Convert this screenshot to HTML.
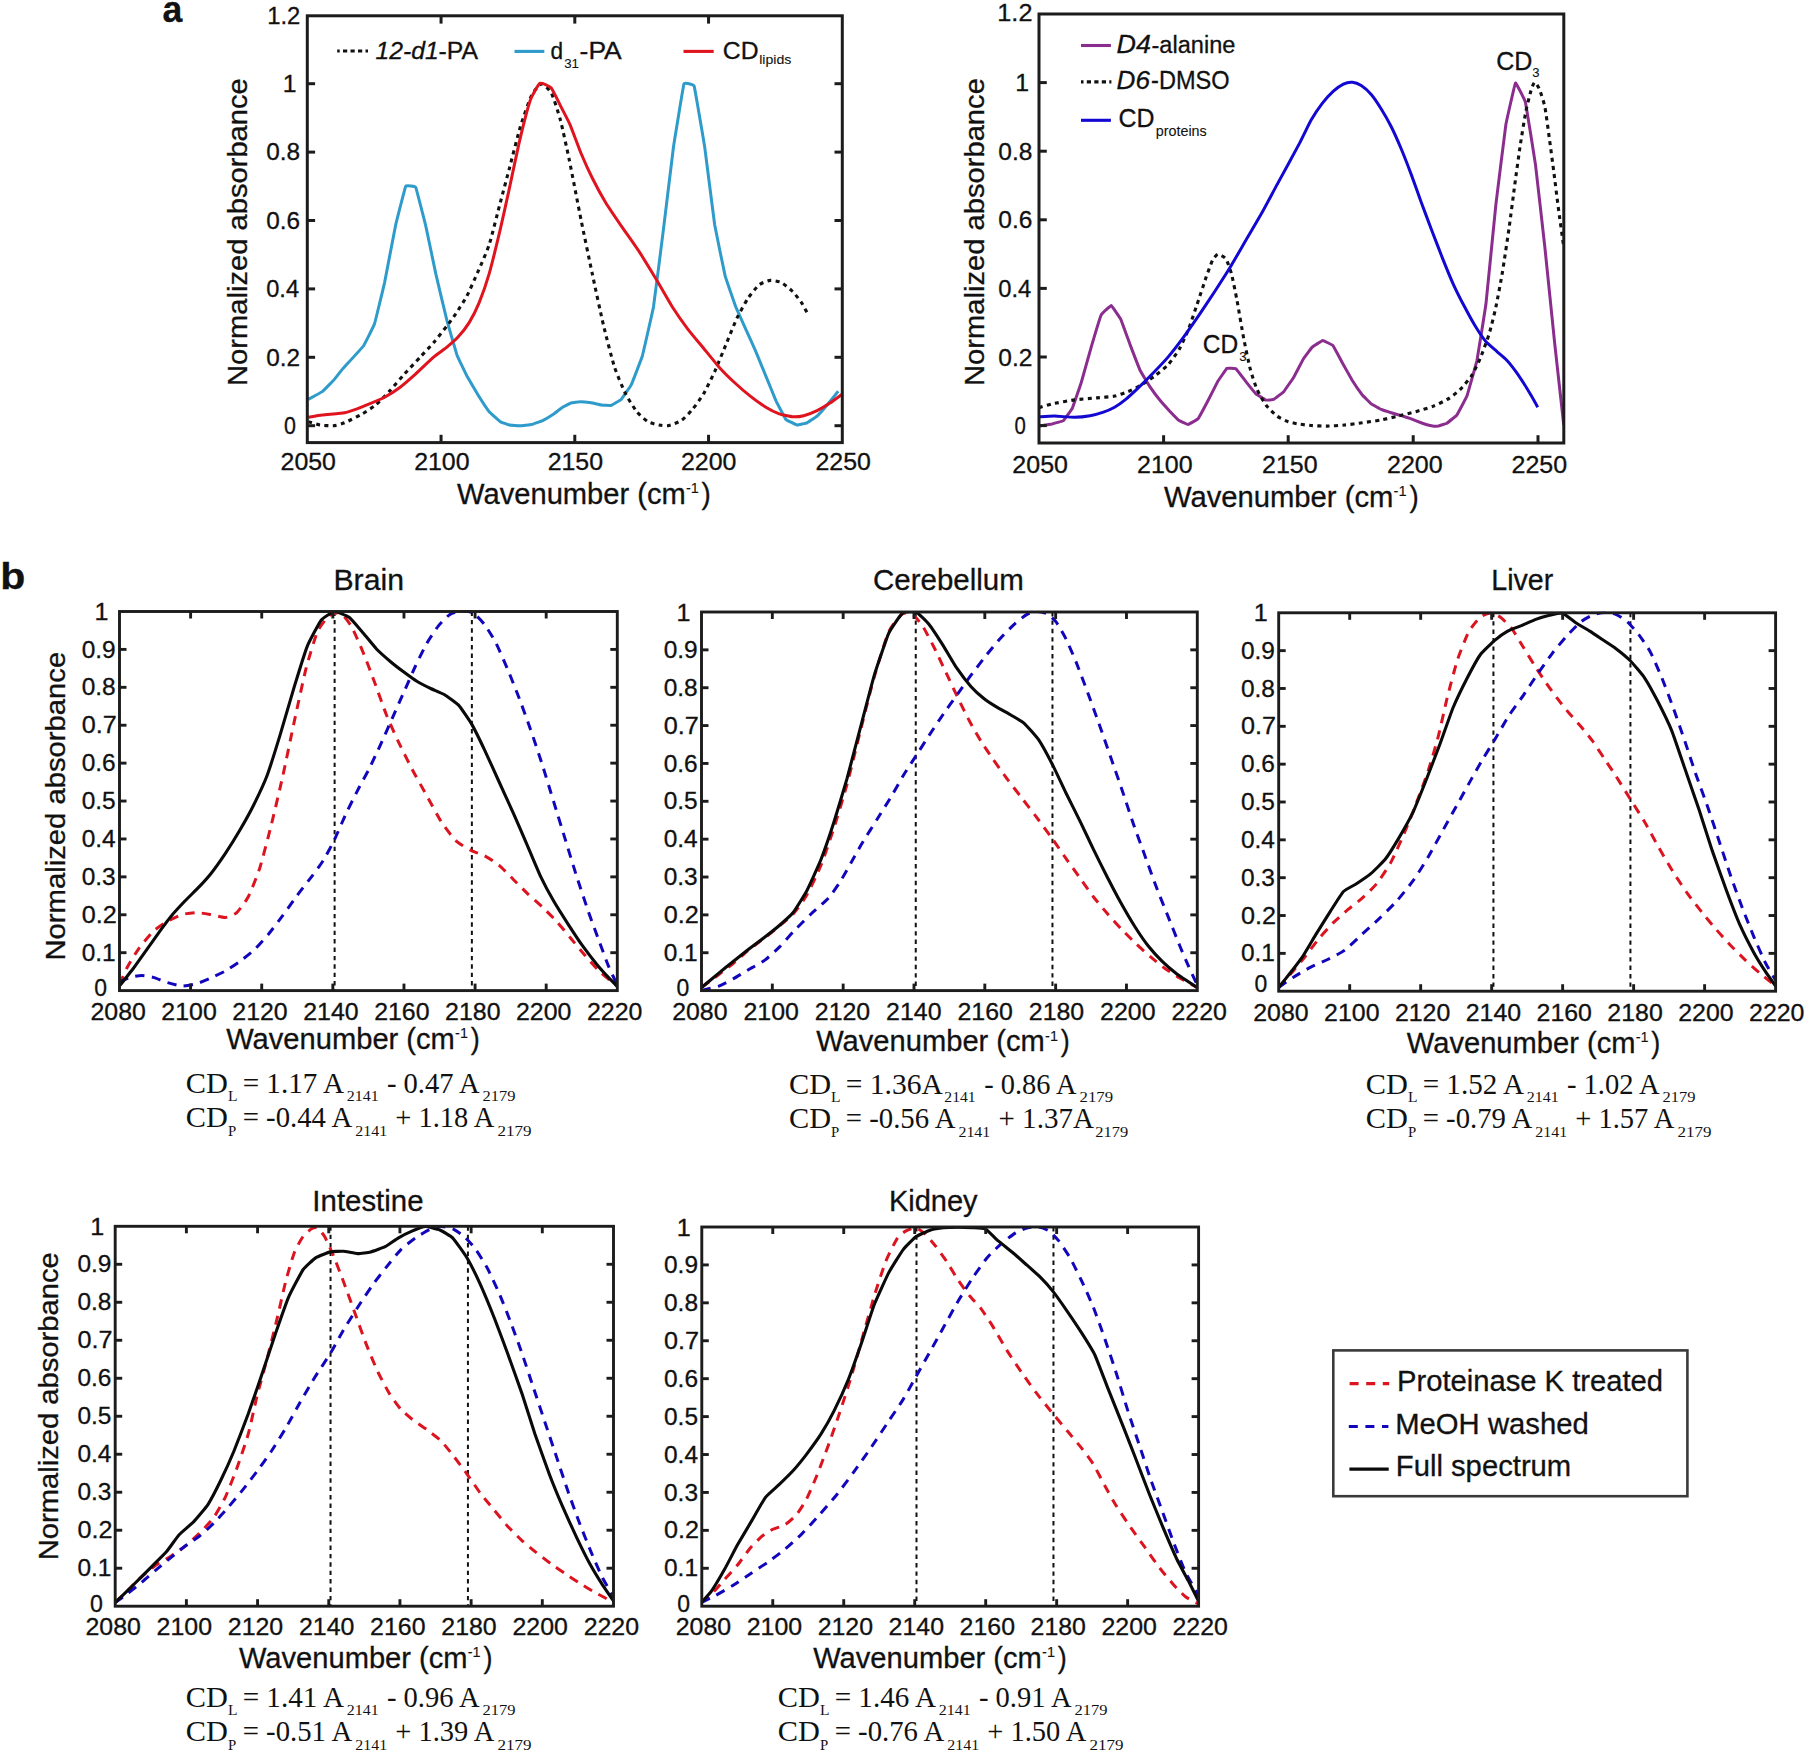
<!DOCTYPE html>
<html lang="en">
<head>
<meta charset="utf-8">
<title>Normalized absorbance spectra</title>
<style>
html,body{margin:0;padding:0;background:#fff;}
body{width:1805px;height:1752px;overflow:hidden;}
svg{display:block;}
text{fill:#111;white-space:pre;}
.sans{stroke:#111;stroke-width:0.3px;}
.sm{stroke-width:0.1px;}
.sans{font-family:"Liberation Sans",Arial,sans-serif;}
.serif{font-family:"Liberation Serif","Times New Roman",serif;}
</style>
</head>
<body>
<svg width="1805" height="1752" viewBox="0 0 1805 1752">
<rect width="1805" height="1752" fill="#fff"/>
<clipPath id="cAL"><rect x="307.3" y="15.8" width="535" height="426.8"/></clipPath>
<path d="M308.24 399.43C308.61 399.22 321.59 392.14 322.26 391.64C322.93 391.13 332.85 381.1 333.39 380.51C333.92 379.92 341.49 370.3 342.29 369.38C343.09 368.46 362.57 347.23 363.43 346.01C364.29 344.79 374 325.44 374.56 323.75C375.13 322.06 384.01 285.22 384.58 282.58C385.14 279.93 395.14 227.28 395.71 224.71C396.27 222.14 405.19 187.2 405.72 186.2C406.26 185.2 415.21 186.26 415.74 187.31C416.27 188.37 425.22 223.52 425.76 225.82C426.29 228.12 435.21 271.15 435.77 273.67C436.33 276.2 446.34 318.25 446.9 320.41C447.46 322.58 456.38 353.43 456.92 354.91C457.45 356.4 466.37 374.99 466.93 376.06C467.5 377.13 477.47 394.03 478.06 394.98C478.65 395.93 488.6 410.96 489.19 411.67C489.78 412.38 499.78 421.33 500.32 421.69C500.85 422.04 508.69 424.92 509.22 425.02C509.76 425.13 519.76 425.7 520.35 425.69C520.94 425.68 530.89 424.72 531.48 424.58C532.07 424.44 542.01 420.86 542.61 420.57C543.2 420.29 553.2 414.25 553.74 413.9C554.27 413.54 562.16 407.51 562.64 407.22C563.11 406.92 571.08 402.91 571.54 402.77C572.01 402.62 579.49 401.65 580.02 401.65C580.54 401.65 590.58 402.68 591.14 402.77C591.71 402.86 600.63 404.92 601.16 404.99C601.69 405.06 610.64 405.59 611.18 405.44C611.71 405.29 620.66 399.97 621.19 399.43C621.73 398.88 630.64 386.12 631.21 384.96C631.77 383.8 641.74 358.1 642.34 356.03C642.93 353.95 652.9 310.44 653.47 307.06C654.03 303.68 662.95 233.43 663.48 229.16C664.02 224.88 672.95 150.68 673.5 146.8C674.04 142.93 683.41 85.43 683.96 83.82C684.51 82.2 693.65 84.58 694.2 86.26C694.75 87.94 704.11 143.11 704.66 146.8C705.2 150.5 714.13 221.26 714.67 224.71C715.22 228.15 724.57 273.7 725.14 275.9C725.7 278.09 735.27 305.63 735.82 307.06C736.37 308.48 745.3 328.13 745.83 329.32C746.37 330.5 755.32 350.33 755.85 351.57C756.38 352.82 765.33 374.75 765.87 376.06C766.4 377.36 775.35 399.38 775.88 400.54C776.42 401.7 785.33 418.81 785.9 419.46C786.46 420.11 796.46 424.93 797.03 425.02C797.59 425.11 806.51 423.04 807.04 422.8C807.58 422.56 816.52 416.6 817.06 416.12C817.59 415.65 826.51 405.66 827.07 404.99C827.64 404.33 837.91 391.56 838.2 391.19" fill="none" stroke="#2e9bcb" stroke-width="3" stroke-linejoin="miter" stroke-miterlimit="2" stroke-linecap="butt" clip-path="url(#cAL)"/>
<path d="M308.24 421.69C309.41 422.02 317.52 424.62 320.03 425.02C322.55 425.42 330.94 425.91 333.39 425.69C335.83 425.47 341.62 423.98 344.52 422.8C347.41 421.62 359.21 415.68 362.32 413.9C365.44 412.11 373 407.22 375.68 404.99C378.35 402.77 386.14 394.75 389.03 391.64C391.92 388.52 401.49 377.28 404.61 373.83C407.73 370.38 417.3 360.25 420.19 357.14C423.08 354.02 430.87 345.79 433.55 342.67C436.22 339.55 444.67 328.87 446.9 325.98C449.13 323.08 453.8 316.74 455.8 313.74C457.81 310.73 464.71 300.16 466.93 295.93C469.16 291.7 475.83 276.57 478.06 271.45C480.29 266.33 486.96 251.64 489.19 244.74C491.41 237.84 498.31 210.02 500.32 202.45C502.32 194.88 507.22 176.63 509.22 169.06C511.22 161.49 518.12 134.12 520.35 126.77C522.58 119.43 529.36 99.89 531.48 95.61C533.59 91.34 539.49 84.26 541.49 84.04C543.5 83.82 549.62 89.78 551.51 93.39C553.4 96.99 558.63 113.42 560.41 120.1C562.19 126.77 567.24 150.14 569.32 160.16C571.39 170.17 578.83 208.9 581.13 220.25C583.42 231.61 590.03 263.21 592.26 273.67C594.48 284.13 601.16 315.52 603.39 324.86C605.61 334.21 612.29 360.25 614.52 367.15C616.74 374.05 623.42 389.41 625.64 393.86C627.87 398.31 634.55 408.89 636.77 411.67C639 414.45 645.68 420.35 647.9 421.69C650.13 423.02 657.03 424.62 659.03 425.02C661.03 425.42 665.71 426.14 667.93 425.69C670.16 425.25 678.84 422.2 681.29 420.57C683.74 418.95 690.19 412.11 692.42 409.44C694.64 406.77 701.32 397.65 703.55 393.86C705.77 390.08 712.45 376.5 714.67 371.61C716.9 366.71 723.58 350.24 725.8 344.9C728.03 339.55 734.71 322.86 736.93 318.19C739.16 313.51 745.83 301.49 748.06 298.16C750.29 294.82 756.96 286.58 759.19 284.8C761.41 283.02 768.09 280.57 770.32 280.35C772.54 280.13 779.22 281.46 781.45 282.58C783.67 283.69 790.57 289.48 792.58 291.48C794.58 293.48 800.03 300.49 801.48 302.61C802.93 304.72 806.49 311.62 807.04 312.62" fill="none" stroke="#111" stroke-width="3.1" stroke-linejoin="miter" stroke-miterlimit="2" stroke-linecap="butt" stroke-dasharray="4 4.3" clip-path="url(#cAL)"/>
<path d="M308.24 417.23C309.26 417.07 319.6 415.33 322.26 415.01C324.92 414.68 342.07 413.19 344.52 412.78C346.96 412.37 354.01 410.01 355.64 409.44C357.28 408.87 364.65 405.89 366.77 404.99C368.89 404.09 382.13 398.51 384.58 397.2C387.03 395.9 397.87 388.9 400.16 387.19C402.44 385.47 413.29 376.03 415.74 373.83C418.19 371.63 431.26 359.1 433.55 357.14C435.83 355.18 445.1 348.59 446.9 347.12C448.7 345.65 456.4 338.9 458.03 337.11C459.66 335.31 467.61 325.17 469.16 322.64C470.71 320.11 477.7 306.2 479.17 302.61C480.64 299.02 487.64 279.06 489.19 273.67C490.74 268.29 498.85 235.36 500.32 229.16C501.79 222.95 507.83 195.46 509.22 189.09C510.61 182.73 517.69 148.88 519.24 142.35C520.79 135.82 528.85 104.39 530.37 100.06C531.88 95.74 538.42 84.27 539.94 83.37C541.45 82.47 549.48 86.03 551.07 87.82C552.65 89.62 560.14 105.16 561.53 107.85C562.91 110.55 568.56 121.2 570 124.55C571.44 127.89 579.5 149.56 581.13 153.48C582.76 157.4 590.46 174.37 592.26 177.97C594.05 181.56 603.49 198.94 605.61 202.45C607.73 205.96 618.74 222.23 621.19 225.82C623.64 229.41 636.39 247.42 639 251.41C641.61 255.41 654.36 276.27 656.8 280.35C659.25 284.43 670.1 303.47 672.38 307.06C674.67 310.65 685.68 326.3 687.97 329.32C690.25 332.34 701.26 345.46 703.55 348.24C705.83 351.01 716.84 364.62 719.13 367.15C721.41 369.68 732.42 380.61 734.71 382.73C736.99 384.86 748 394.29 750.29 396.09C752.57 397.88 763.74 405.91 765.87 407.22C767.99 408.52 777.26 413.19 779.22 413.9C781.18 414.6 790.78 416.66 792.58 416.79C794.37 416.92 801.91 416.13 803.7 415.68C805.5 415.22 815.1 411.5 817.06 410.56C819.02 409.61 828.54 403.99 830.41 402.77C832.29 401.54 841.76 394.52 842.66 393.86" fill="none" stroke="#e0141e" stroke-width="3" stroke-linejoin="miter" stroke-miterlimit="2" stroke-linecap="butt" clip-path="url(#cAL)"/>
<rect x="307.3" y="15.8" width="535" height="426.8" fill="none" stroke="#1c1c1c" stroke-width="3"/>
<line x1="441.05" y1="442.6" x2="441.05" y2="434.8" stroke="#1c1c1c" stroke-width="3" stroke-linecap="butt"/>
<line x1="441.05" y1="15.8" x2="441.05" y2="23.6" stroke="#1c1c1c" stroke-width="3" stroke-linecap="butt"/>
<line x1="574.8" y1="442.6" x2="574.8" y2="434.8" stroke="#1c1c1c" stroke-width="3" stroke-linecap="butt"/>
<line x1="574.8" y1="15.8" x2="574.8" y2="23.6" stroke="#1c1c1c" stroke-width="3" stroke-linecap="butt"/>
<line x1="708.55" y1="442.6" x2="708.55" y2="434.8" stroke="#1c1c1c" stroke-width="3" stroke-linecap="butt"/>
<line x1="708.55" y1="15.8" x2="708.55" y2="23.6" stroke="#1c1c1c" stroke-width="3" stroke-linecap="butt"/>
<line x1="307.3" y1="425.7" x2="315.1" y2="425.7" stroke="#1c1c1c" stroke-width="3" stroke-linecap="butt"/>
<line x1="842.3" y1="425.7" x2="834.5" y2="425.7" stroke="#1c1c1c" stroke-width="3" stroke-linecap="butt"/>
<line x1="307.3" y1="357.3" x2="315.1" y2="357.3" stroke="#1c1c1c" stroke-width="3" stroke-linecap="butt"/>
<line x1="842.3" y1="357.3" x2="834.5" y2="357.3" stroke="#1c1c1c" stroke-width="3" stroke-linecap="butt"/>
<line x1="307.3" y1="288.9" x2="315.1" y2="288.9" stroke="#1c1c1c" stroke-width="3" stroke-linecap="butt"/>
<line x1="842.3" y1="288.9" x2="834.5" y2="288.9" stroke="#1c1c1c" stroke-width="3" stroke-linecap="butt"/>
<line x1="307.3" y1="220.5" x2="315.1" y2="220.5" stroke="#1c1c1c" stroke-width="3" stroke-linecap="butt"/>
<line x1="842.3" y1="220.5" x2="834.5" y2="220.5" stroke="#1c1c1c" stroke-width="3" stroke-linecap="butt"/>
<line x1="307.3" y1="152.1" x2="315.1" y2="152.1" stroke="#1c1c1c" stroke-width="3" stroke-linecap="butt"/>
<line x1="842.3" y1="152.1" x2="834.5" y2="152.1" stroke="#1c1c1c" stroke-width="3" stroke-linecap="butt"/>
<line x1="307.3" y1="83.7" x2="315.1" y2="83.7" stroke="#1c1c1c" stroke-width="3" stroke-linecap="butt"/>
<line x1="842.3" y1="83.7" x2="834.5" y2="83.7" stroke="#1c1c1c" stroke-width="3" stroke-linecap="butt"/>
<text class="sans" transform="translate(280.53 469.9) scale(1.0705 1)" font-size="23.29">2050</text>
<text class="sans" transform="translate(414.13 469.9) scale(1.0705 1)" font-size="23.29">2100</text>
<text class="sans" transform="translate(547.63 469.9) scale(1.0705 1)" font-size="23.29">2150</text>
<text class="sans" transform="translate(680.93 469.9) scale(1.0705 1)" font-size="23.29">2200</text>
<text class="sans" transform="translate(815.43 469.9) scale(1.0705 1)" font-size="23.29">2250</text>
<text class="sans" transform="translate(266.2 365.6) scale(1.0406 1)" font-size="23.43">0.2</text>
<text class="sans" transform="translate(266.2 297.2) scale(1.0086 1)" font-size="23.43">0.4</text>
<text class="sans" transform="translate(266.2 228.8) scale(1.0406 1)" font-size="23.43">0.6</text>
<text class="sans" transform="translate(266.2 160.4) scale(1.0406 1)" font-size="23.43">0.8</text>
<text class="sans" transform="translate(284 433.6) scale(0.9154 1)" font-size="23.43">0</text>
<text class="sans" transform="translate(282.84 92) scale(1.0600 1)" font-size="23.43">1</text>
<text class="sans" transform="translate(267.2 23.5) scale(1.0043 1)" font-size="23.71">1.2</text>
<text class="sans" transform="translate(457.1 503.5) scale(1.0103 1)" font-size="28.84">Wavenumber (cm</text>
<text class="sans sm" transform="translate(686 492.6) scale(0.9493 1)" font-size="15.22">-1</text>
<text class="sans" transform="translate(701.6 503.5) scale(0.9625 1)" font-size="28.84">)</text>
<text class="sans" transform="translate(246.8 385.95) rotate(-90) scale(1.0232 1)" font-size="28.49">Normalized absorbance</text>
<text class="sans" transform="translate(162.55 22.1) scale(0.9476 1)" font-size="37.59" font-weight="bold">a</text>
<line x1="337.2" y1="51" x2="368" y2="51" stroke="#111" stroke-width="3.2" stroke-dasharray="4.2 3.3" stroke-dashoffset="1.7"/>
<text class="sans" transform="translate(375.4 59.4) scale(1.0530 1)" font-size="23.48" font-style="italic">12-d1</text>
<text class="sans" transform="translate(438.45 59.4) scale(1.0500 1)" font-size="23.62">-PA</text>
<line x1="514.5" y1="51.4" x2="544.3" y2="51.4" stroke="#2e9bcb" stroke-width="3.1" stroke-linecap="butt"/>
<text class="sans" transform="translate(550.5 59.4) scale(0.9583 1)" font-size="23.62">d</text>
<text class="sans sm" transform="translate(564.2 67.5) scale(0.9747 1)" font-size="13.62">31</text>
<text class="sans" transform="translate(579.58 59.4) scale(1.1206 1)" font-size="23.62">-PA</text>
<line x1="683.5" y1="51.4" x2="713.7" y2="51.4" stroke="#e0141e" stroke-width="3.1" stroke-linecap="butt"/>
<text class="sans" transform="translate(722.75 59.4) scale(1.0484 1)" font-size="23.62">CD</text>
<text class="sans sm" transform="translate(759.2 64.3) scale(1.1703 1)" font-size="12.05">lipids</text>
<clipPath id="cAR"><rect x="1039" y="14" width="524.8" height="429"/></clipPath>
<path d="M1038.9 426.14C1039.26 426.08 1051.6 424.06 1052.26 423.91C1052.91 423.76 1062.85 420.99 1063.39 420.57C1063.92 420.16 1071.81 409.34 1072.29 408.33C1072.76 407.32 1080.69 384.37 1081.19 382.73C1081.7 381.1 1090.67 348.93 1091.21 347.12C1091.74 345.31 1100.69 315.96 1101.22 314.85C1101.76 313.74 1110.72 305.38 1111.24 305.5C1111.76 305.62 1120.31 318.25 1120.81 319.3C1121.32 320.35 1129.64 343.53 1130.16 344.9C1130.68 346.26 1139.64 369.37 1140.17 370.49C1140.71 371.62 1149.66 386.38 1150.19 387.19C1150.72 387.99 1159.67 399.89 1160.21 400.54C1160.74 401.19 1169.72 411.14 1170.22 411.67C1170.73 412.2 1178.65 420.23 1179.13 420.57C1179.6 420.92 1187.52 424.63 1188.03 424.58C1188.53 424.53 1197.51 419.43 1198.04 418.79C1198.58 418.15 1207.54 401.53 1208.06 400.54C1208.58 399.55 1217.13 382.48 1217.63 381.62C1218.14 380.76 1226.49 368.61 1226.98 368.27C1227.47 367.92 1235.38 368.36 1235.88 368.71C1236.39 369.07 1245.36 380.95 1245.9 381.62C1246.43 382.29 1255.38 393.37 1255.91 393.86C1256.45 394.36 1265.46 399.95 1265.93 400.1C1266.4 400.24 1273.25 399.65 1273.72 399.43C1274.2 399.2 1283.2 392.23 1283.74 391.64C1284.27 391.04 1293.22 378.06 1293.75 377.17C1294.29 376.28 1303.27 359.05 1303.77 358.25C1304.26 357.45 1311.74 347.6 1312.24 347.12C1312.75 346.65 1322.15 340.49 1322.7 340.45C1323.25 340.4 1332.42 344.97 1332.94 345.56C1333.46 346.16 1341.77 361.77 1342.29 362.7C1342.81 363.63 1351.77 379.65 1352.31 380.51C1352.84 381.37 1361.82 394.35 1362.32 394.98C1362.83 395.6 1370.72 403.49 1371.22 403.88C1371.73 404.26 1380.71 409.21 1381.24 409.44C1381.77 409.68 1390.72 412.62 1391.26 412.78C1391.79 412.95 1400.74 415.52 1401.27 415.68C1401.81 415.84 1410.72 418.59 1411.29 418.79C1411.85 418.99 1421.88 423.06 1422.42 423.24C1422.95 423.43 1430.9 425.61 1431.32 425.69C1431.74 425.77 1437.58 426.2 1438 426.14C1438.41 426.07 1446.4 423.54 1446.9 423.24C1447.4 422.95 1456.38 415.73 1456.92 415.01C1457.45 414.28 1466.4 397.54 1466.93 396.09C1467.47 394.63 1476.44 362.91 1476.95 360.48C1477.45 358.04 1485.35 308.99 1485.85 304.83C1486.36 300.68 1495.33 209.48 1495.87 204.67C1496.4 199.87 1505.36 127.79 1505.88 124.55C1506.4 121.3 1514.93 83.52 1515.45 82.93C1515.98 82.33 1524.93 100.11 1525.47 102.29C1526 104.47 1534.97 160.75 1535.48 164.61C1536 168.47 1544.32 242.16 1544.83 246.96C1545.35 251.77 1554.34 340.15 1554.85 344.9C1555.35 349.64 1563.51 422.89 1563.75 425.02" fill="none" stroke="#8b2d8e" stroke-width="3" stroke-linejoin="miter" stroke-miterlimit="2" stroke-linecap="butt" clip-path="url(#cAR)"/>
<path d="M1038.9 407.66C1040.24 407.28 1048.7 404.66 1052.26 403.88C1055.82 403.1 1070.06 400.47 1074.52 399.87C1078.97 399.27 1092.77 398.25 1096.77 397.87C1100.78 397.49 1111.46 396.71 1114.58 396.09C1117.69 395.47 1125.26 392.75 1127.93 391.64C1130.6 390.52 1138.62 386.52 1141.29 384.96C1143.96 383.4 1151.97 378.06 1154.64 376.06C1157.31 374.05 1165.55 367.6 1168 364.93C1170.45 362.26 1177.12 352.8 1179.13 349.35C1181.13 345.9 1186.25 334.88 1188.03 330.43C1189.81 325.98 1195.15 310.06 1196.93 304.83C1198.71 299.6 1204.28 282.58 1205.83 278.12C1207.39 273.67 1211.29 262.7 1212.51 260.32C1213.74 257.94 1216.74 254.46 1218.08 254.31C1219.41 254.15 1224.53 256.82 1225.87 258.76C1227.2 260.7 1230.32 269.51 1231.43 273.67C1232.54 277.83 1235.77 293.93 1237 300.38C1238.22 306.84 1242.34 331.32 1243.67 338.22C1245.01 345.12 1249.01 364.26 1250.35 369.38C1251.69 374.5 1255.47 385.85 1257.03 389.41C1258.59 392.97 1263.93 402.32 1265.93 404.99C1267.93 407.66 1274.83 414.45 1277.06 416.12C1279.28 417.79 1285.96 420.88 1288.19 421.69C1290.41 422.49 1297.02 423.76 1299.32 424.13C1301.61 424.51 1308.39 425.27 1311.13 425.47C1313.87 425.67 1323.37 426.18 1326.71 426.14C1330.05 426.09 1340.95 425.36 1344.52 425.02C1348.08 424.69 1358.76 423.29 1362.32 422.8C1365.88 422.31 1376.57 420.79 1380.13 420.13C1383.69 419.46 1394.37 416.97 1397.93 416.12C1401.49 415.28 1412.18 412.67 1415.74 411.67C1419.3 410.67 1430.21 407.44 1433.55 406.1C1436.88 404.77 1446.45 399.98 1449.13 398.31C1451.8 396.65 1458.03 391.64 1460.25 389.41C1462.48 387.19 1469.38 379.17 1471.38 376.06C1473.39 372.94 1478.51 362.48 1480.29 358.25C1482.07 354.02 1487.63 338.89 1489.19 333.77C1490.75 328.65 1494.53 313.29 1495.87 307.06C1497.2 300.83 1501.21 279.46 1502.54 271.45C1503.88 263.43 1508 235.61 1509.22 226.93C1510.45 218.25 1513.67 192.88 1514.79 184.64C1515.9 176.41 1519.24 151.92 1520.35 144.58C1521.46 137.23 1524.8 116.76 1525.91 111.19C1527.03 105.63 1530.59 91.83 1531.48 88.93C1532.37 86.04 1534.04 82.26 1534.82 82.26C1535.6 82.26 1538.27 86.49 1539.27 88.93C1540.27 91.38 1543.83 101.84 1544.83 106.74C1545.83 111.64 1548.39 131.45 1549.28 137.9C1550.17 144.36 1552.85 164.39 1553.74 171.29C1554.63 178.19 1557.19 199.33 1558.19 206.9C1559.19 214.47 1563.2 242.96 1563.75 246.96" fill="none" stroke="#111" stroke-width="3.1" stroke-linejoin="miter" stroke-miterlimit="2" stroke-linecap="butt" stroke-dasharray="4 4.3" clip-path="url(#cAR)"/>
<path d="M1038.9 416.79C1040.46 416.72 1050.92 416.08 1054.48 416.12C1058.04 416.17 1070.95 417.28 1074.52 417.23C1078.08 417.19 1087.2 416.19 1090.1 415.68C1092.99 415.16 1101 412.96 1103.45 412.11C1105.9 411.27 1112.35 408.49 1114.58 407.22C1116.8 405.95 1123.26 401.43 1125.71 399.43C1128.16 397.42 1136.39 389.75 1139.06 387.19C1141.73 384.63 1149.52 376.84 1152.42 373.83C1155.31 370.83 1164.88 360.81 1168 357.14C1171.11 353.47 1180.46 341.34 1183.58 337.11C1186.69 332.88 1196.04 319.41 1199.16 314.85C1202.27 310.29 1211.62 296.26 1214.74 291.48C1217.85 286.69 1227.2 272.11 1230.32 267C1233.43 261.88 1242.78 245.63 1245.9 240.29C1249.01 234.94 1258.36 219.14 1261.48 213.58C1264.59 208.01 1273.21 191.76 1277.06 184.64C1280.91 177.52 1296.59 148.81 1300 142.35C1303.41 135.9 1308.9 123.99 1311.13 120.1C1313.35 116.2 1320.03 106.3 1322.26 103.4C1324.48 100.51 1331.27 93.1 1333.39 91.16C1335.5 89.22 1341.51 84.93 1343.4 84.04C1345.29 83.15 1350.52 82.1 1352.31 82.26C1354.09 82.41 1359.32 84.37 1361.21 85.6C1363.1 86.82 1369.22 92.16 1371.22 94.5C1373.23 96.84 1379.24 105.74 1381.24 108.97C1383.24 112.19 1389.25 122.77 1391.26 126.77C1393.26 130.78 1399.27 144.24 1401.27 149.03C1403.28 153.82 1409.28 169.28 1411.29 174.63C1413.29 179.97 1419.3 197 1421.3 202.45C1423.31 207.9 1429.21 223.59 1431.32 229.16C1433.43 234.72 1440.22 252.53 1442.45 258.09C1444.67 263.66 1451.35 279.9 1453.58 284.8C1455.8 289.7 1462.48 302.83 1464.71 307.06C1466.93 311.29 1473.72 323.64 1475.83 327.09C1477.95 330.54 1483.74 339.11 1485.85 341.56C1487.97 344.01 1494.86 349.68 1496.98 351.57C1499.09 353.47 1505.1 358.47 1507 360.48C1508.89 362.48 1514.12 369.16 1515.9 371.61C1517.68 374.05 1523.24 382.51 1524.8 384.96C1526.36 387.41 1530.19 393.86 1531.48 396.09C1532.77 398.31 1537.09 406.1 1537.71 407.22" fill="none" stroke="#1208d2" stroke-width="3" stroke-linejoin="miter" stroke-miterlimit="2" stroke-linecap="butt" clip-path="url(#cAR)"/>
<rect x="1039" y="14" width="524.8" height="429" fill="none" stroke="#1c1c1c" stroke-width="3"/>
<line x1="1163.6" y1="443" x2="1163.6" y2="435.2" stroke="#1c1c1c" stroke-width="3" stroke-linecap="butt"/>
<line x1="1288.2" y1="443" x2="1288.2" y2="435.2" stroke="#1c1c1c" stroke-width="3" stroke-linecap="butt"/>
<line x1="1413.2" y1="443" x2="1413.2" y2="435.2" stroke="#1c1c1c" stroke-width="3" stroke-linecap="butt"/>
<line x1="1538" y1="443" x2="1538" y2="435.2" stroke="#1c1c1c" stroke-width="3" stroke-linecap="butt"/>
<line x1="1039" y1="425.6" x2="1046.8" y2="425.6" stroke="#1c1c1c" stroke-width="3" stroke-linecap="butt"/>
<line x1="1039" y1="357" x2="1046.8" y2="357" stroke="#1c1c1c" stroke-width="3" stroke-linecap="butt"/>
<line x1="1039" y1="288.4" x2="1046.8" y2="288.4" stroke="#1c1c1c" stroke-width="3" stroke-linecap="butt"/>
<line x1="1039" y1="219.8" x2="1046.8" y2="219.8" stroke="#1c1c1c" stroke-width="3" stroke-linecap="butt"/>
<line x1="1039" y1="151.2" x2="1046.8" y2="151.2" stroke="#1c1c1c" stroke-width="3" stroke-linecap="butt"/>
<line x1="1039" y1="82.6" x2="1046.8" y2="82.6" stroke="#1c1c1c" stroke-width="3" stroke-linecap="butt"/>
<text class="sans" transform="translate(1012.33 472.6) scale(1.0744 1)" font-size="23.29">2050</text>
<text class="sans" transform="translate(1137.03 472.6) scale(1.0744 1)" font-size="23.29">2100</text>
<text class="sans" transform="translate(1262.03 472.6) scale(1.0744 1)" font-size="23.29">2150</text>
<text class="sans" transform="translate(1387.03 472.6) scale(1.0744 1)" font-size="23.29">2200</text>
<text class="sans" transform="translate(1511.53 472.6) scale(1.0744 1)" font-size="23.29">2250</text>
<text class="sans" transform="translate(998.3 365.6) scale(1.0469 1)" font-size="23.43">0.2</text>
<text class="sans" transform="translate(998.3 297) scale(1.0147 1)" font-size="23.43">0.4</text>
<text class="sans" transform="translate(998.3 228.4) scale(1.0469 1)" font-size="23.43">0.6</text>
<text class="sans" transform="translate(998.3 159.8) scale(1.0469 1)" font-size="23.43">0.8</text>
<text class="sans" transform="translate(1014.6 434.4) scale(0.8692 1)" font-size="23.43">0</text>
<text class="sans" transform="translate(1015.34 90.9) scale(1.0600 1)" font-size="23.43">1</text>
<text class="sans" transform="translate(997.32 20.9) scale(1.0780 1)" font-size="23.43">1.2</text>
<text class="sans" transform="translate(1163.9 507.1) scale(1.0138 1)" font-size="28.84">Wavenumber (cm</text>
<text class="sans sm" transform="translate(1393.6 496.2) scale(0.9646 1)" font-size="15.22">-1</text>
<text class="sans" transform="translate(1409.5 507.1) scale(0.9625 1)" font-size="28.84">)</text>
<text class="sans" transform="translate(984.1 385.95) rotate(-90) scale(1.0235 1)" font-size="28.49">Normalized absorbance</text>
<line x1="1081" y1="45.5" x2="1110.9" y2="45.5" stroke="#8b2d8e" stroke-width="3.1" stroke-linecap="butt"/>
<text class="sans" transform="translate(1116.6 52.9) scale(1.0740 1)" font-size="25.07" font-style="italic">D4</text>
<text class="sans" transform="translate(1151.5 52.9) scale(0.9951 1)" font-size="23.7">-alanine</text>
<line x1="1081" y1="81.8" x2="1111.4" y2="81.8" stroke="#111" stroke-width="3.2" stroke-dasharray="4.2 3.3" stroke-dashoffset="1.7"/>
<text class="sans" transform="translate(1116.6 89.4) scale(1.0405 1)" font-size="25.07" font-style="italic">D6</text>
<text class="sans" transform="translate(1151.06 89.4) scale(0.9410 1)" font-size="25.07">-DMSO</text>
<line x1="1081" y1="120.3" x2="1110.9" y2="120.3" stroke="#1208d2" stroke-width="3.1" stroke-linecap="butt"/>
<text class="sans" transform="translate(1118.51 127) scale(0.9942 1)" font-size="25.07">CD</text>
<text class="sans sm" transform="translate(1155.8 135.6) scale(0.9693 1)" font-size="14.77">proteins</text>
<text class="sans" transform="translate(1202.83 352.7) scale(0.9737 1)" font-size="25.22">CD</text>
<text class="sans sm" transform="translate(1239.3 360.7) scale(0.9857 1)" font-size="13.43">3</text>
<text class="sans" transform="translate(1496.2 69.6) scale(1.0000 1)" font-size="25.07">CD</text>
<text class="sans sm" transform="translate(1532.2 76.7) scale(1.0143 1)" font-size="12.86">3</text>
<clipPath id="cBr"><rect x="118.5" y="610.5" width="499.8" height="381.1"/></clipPath>
<line x1="334.62" y1="611.5" x2="334.62" y2="990.6" stroke="#111" stroke-width="2" stroke-linecap="butt" stroke-dasharray="4.4 4"/>
<line x1="471.87" y1="611.5" x2="471.87" y2="990.6" stroke="#111" stroke-width="2" stroke-linecap="butt" stroke-dasharray="4.4 4"/>
<path d="M119.51 984.6C120.28 982.87 125.36 970.91 127.29 967.31C129.22 963.71 136.22 952.19 138.81 948.59C141.4 944.99 150.33 934.04 153.21 931.3C156.09 928.57 164.74 922.89 167.62 921.22C170.5 919.55 179.14 915.46 182.02 914.59C184.9 913.73 193.55 912.58 196.43 912.58C199.31 912.58 207.95 914.1 210.83 914.59C213.71 915.08 222.64 917.68 225.24 917.47C227.83 917.27 234.45 914.65 236.76 912.58C239.06 910.5 245.98 901.2 248.28 896.73C250.59 892.27 257.5 875.12 259.81 867.92C262.11 860.72 269.02 833.93 271.33 824.71C273.63 815.49 280.55 786.11 282.85 775.73C285.16 765.36 292.07 731.66 294.38 721C296.68 710.34 303.6 678.07 305.9 669.14C308.2 660.21 315.12 637.02 317.42 631.69C319.73 626.36 327.07 617.72 328.95 615.84C330.82 613.97 334.71 612.96 336.15 612.96C337.59 612.96 341.77 614.4 343.35 615.84C344.94 617.29 349.98 623.62 351.99 627.37C354.01 631.11 361.21 647.68 363.52 653.3C365.82 658.91 372.74 677.35 375.04 683.55C377.35 689.74 384.26 709.47 386.57 715.24C388.87 721 395.5 735.69 398.09 741.16C400.68 746.64 409.61 764.5 412.49 769.97C415.37 775.45 424.02 790.71 426.9 795.9C429.78 801.09 438.42 817.36 441.3 821.83C444.18 826.29 452.68 837.67 455.71 840.55C458.73 843.43 468.67 849.11 471.55 850.64C474.43 852.16 481.78 854.38 484.52 855.82C487.25 857.26 496.04 862.68 498.92 865.04C501.8 867.4 510.44 876.57 513.32 879.45C516.2 882.33 524.85 891.11 527.73 893.85C530.61 896.59 539.25 904.08 542.13 906.81C545.01 909.55 553.66 918.05 556.54 921.22C559.42 924.39 568.06 935.05 570.94 938.5C573.82 941.96 582.47 952.48 585.35 955.79C588.23 959.1 596.58 968.61 599.75 971.63C602.92 974.66 615.31 984.6 617.04 986.04" fill="none" stroke="#dc1420" stroke-width="3" stroke-linejoin="miter" stroke-miterlimit="2" stroke-linecap="butt" stroke-dasharray="9.3 7.4" clip-path="url(#cBr)"/>
<path d="M119.51 981.72C120.57 981.29 127.95 978.03 130.17 977.4C132.38 976.76 139.39 975.38 141.69 975.38C143.99 975.38 150.62 976.68 153.21 977.4C155.81 978.12 164.74 981.72 167.62 982.58C170.5 983.45 179.14 985.92 182.02 986.04C184.9 986.15 193.55 984.54 196.43 983.73C199.31 982.93 207.95 979.24 210.83 977.97C213.71 976.7 222.35 972.7 225.24 971.06C228.12 969.42 236.76 963.65 239.64 961.55C242.52 959.45 251.16 952.76 254.04 950.03C256.93 947.29 265.57 937.64 268.45 934.18C271.33 930.73 279.97 919.35 282.85 915.46C285.73 911.57 294.38 899.18 297.26 895.29C300.14 891.4 309.07 880.02 311.66 876.57C314.25 873.11 320.88 864.47 323.19 860.72C325.49 856.98 332.4 843.87 334.71 839.11C337.01 834.36 343.93 818.08 346.23 813.19C348.54 808.29 355.45 794.6 357.76 790.14C360.06 785.67 366.98 773.14 369.28 768.53C371.58 763.92 378.5 749.09 380.8 744.04C383.11 739 390.02 723.3 392.33 718.12C394.63 712.93 401.55 697.37 403.85 692.19C406.16 687 413.07 671.16 415.37 666.26C417.68 661.36 424.59 647.25 426.9 643.21C429.2 639.18 436.12 628.81 438.42 625.93C440.73 623.05 447.64 615.9 449.94 614.4C452.25 612.91 459.16 611.09 461.47 610.95C463.77 610.8 470.69 611.61 472.99 612.96C475.3 614.32 482.21 621.46 484.52 624.49C486.82 627.51 493.73 638.75 496.04 643.21C498.34 647.68 505.26 663.67 507.56 669.14C509.87 674.61 516.78 691.9 519.09 697.95C521.39 704 528.3 723.01 530.61 729.64C532.91 736.27 539.83 757.01 542.13 764.21C544.44 771.41 551.35 794.17 553.66 801.66C555.96 809.15 562.88 831.62 565.18 839.11C567.48 846.6 574.4 869.36 576.7 876.57C579.01 883.77 585.92 904.51 588.23 911.14C590.53 917.76 597.73 937.35 599.75 942.83C601.77 948.3 606.66 961.7 608.39 965.87C610.12 970.05 616.17 982.73 617.04 984.6" fill="none" stroke="#1206bc" stroke-width="3" stroke-linejoin="miter" stroke-miterlimit="2" stroke-linecap="butt" stroke-dasharray="9.3 7.4" clip-path="url(#cBr)"/>
<path d="M119.51 986.04C120.41 984.89 131.18 971.25 133.05 968.75C134.91 966.26 145.53 951.28 147.45 948.59C149.37 945.9 160.32 930.53 161.86 928.42C163.39 926.31 168.96 918.72 170.5 916.9C172.04 915.07 182.98 903.07 184.9 901.05C186.82 899.04 197.58 888.47 199.31 886.65C201.04 884.82 209.1 875.89 210.83 873.68C212.56 871.48 223.31 856.4 225.24 853.52C227.16 850.64 237.78 833.64 239.64 830.47C241.5 827.3 251.36 809.63 253.18 805.98C255 802.33 265.22 780.44 267.01 775.73C268.79 771.03 278.15 741.36 279.97 735.4C281.8 729.45 292.55 692.38 294.38 686.43C296.2 680.47 305.55 650.51 307.34 646.09C309.13 641.68 319.34 622.47 321.17 620.17C322.99 617.86 332.85 611.72 334.71 611.52C336.57 611.33 347.29 615.94 349.11 617.29C350.94 618.63 360.25 629.58 362.08 631.69C363.9 633.8 374.56 646.96 376.48 648.98C378.4 650.99 389.06 660.4 390.89 661.94C392.71 663.48 402.12 670.74 403.85 672.02C405.58 673.31 414.99 680.13 416.81 681.24C418.64 682.35 429.39 687.85 431.22 688.73C433.04 689.61 442.36 693.4 444.18 694.49C446.01 695.59 456.76 703.19 458.59 705.15C460.41 707.11 469.82 720.9 471.55 723.88C473.28 726.86 482.69 745.96 484.52 749.81C486.34 753.65 497 777.27 498.92 781.5C500.84 785.72 511.4 808.86 513.32 813.19C515.24 817.51 525.9 842.09 527.73 846.32C529.55 850.54 538.96 872.92 540.69 876.57C542.42 880.21 551.83 897.88 553.66 901.05C555.48 904.22 566.14 921.12 568.06 924.1C569.98 927.08 580.54 943.02 582.47 945.71C584.39 948.4 595.14 962.32 596.87 964.43C598.6 966.54 607.05 975.96 608.39 977.4C609.74 978.84 616.46 985.46 617.04 986.04" fill="none" stroke="#0a0a0a" stroke-width="3.1" stroke-linejoin="miter" stroke-miterlimit="2" stroke-linecap="butt" clip-path="url(#cBr)"/>
<rect x="119.5" y="611.5" width="497.8" height="379.1" fill="none" stroke="#1c1c1c" stroke-width="2.9"/>
<line x1="190.61" y1="990.6" x2="190.61" y2="983.6" stroke="#1c1c1c" stroke-width="2.9" stroke-linecap="butt"/>
<line x1="190.61" y1="611.5" x2="190.61" y2="618.5" stroke="#1c1c1c" stroke-width="2.9" stroke-linecap="butt"/>
<line x1="261.73" y1="990.6" x2="261.73" y2="983.6" stroke="#1c1c1c" stroke-width="2.9" stroke-linecap="butt"/>
<line x1="261.73" y1="611.5" x2="261.73" y2="618.5" stroke="#1c1c1c" stroke-width="2.9" stroke-linecap="butt"/>
<line x1="332.84" y1="990.6" x2="332.84" y2="983.6" stroke="#1c1c1c" stroke-width="2.9" stroke-linecap="butt"/>
<line x1="332.84" y1="611.5" x2="332.84" y2="618.5" stroke="#1c1c1c" stroke-width="2.9" stroke-linecap="butt"/>
<line x1="403.96" y1="990.6" x2="403.96" y2="983.6" stroke="#1c1c1c" stroke-width="2.9" stroke-linecap="butt"/>
<line x1="403.96" y1="611.5" x2="403.96" y2="618.5" stroke="#1c1c1c" stroke-width="2.9" stroke-linecap="butt"/>
<line x1="475.07" y1="990.6" x2="475.07" y2="983.6" stroke="#1c1c1c" stroke-width="2.9" stroke-linecap="butt"/>
<line x1="475.07" y1="611.5" x2="475.07" y2="618.5" stroke="#1c1c1c" stroke-width="2.9" stroke-linecap="butt"/>
<line x1="546.19" y1="990.6" x2="546.19" y2="983.6" stroke="#1c1c1c" stroke-width="2.9" stroke-linecap="butt"/>
<line x1="546.19" y1="611.5" x2="546.19" y2="618.5" stroke="#1c1c1c" stroke-width="2.9" stroke-linecap="butt"/>
<line x1="119.5" y1="952.69" x2="126.5" y2="952.69" stroke="#1c1c1c" stroke-width="2.9" stroke-linecap="butt"/>
<line x1="617.3" y1="952.69" x2="610.3" y2="952.69" stroke="#1c1c1c" stroke-width="2.9" stroke-linecap="butt"/>
<line x1="119.5" y1="914.78" x2="126.5" y2="914.78" stroke="#1c1c1c" stroke-width="2.9" stroke-linecap="butt"/>
<line x1="617.3" y1="914.78" x2="610.3" y2="914.78" stroke="#1c1c1c" stroke-width="2.9" stroke-linecap="butt"/>
<line x1="119.5" y1="876.87" x2="126.5" y2="876.87" stroke="#1c1c1c" stroke-width="2.9" stroke-linecap="butt"/>
<line x1="617.3" y1="876.87" x2="610.3" y2="876.87" stroke="#1c1c1c" stroke-width="2.9" stroke-linecap="butt"/>
<line x1="119.5" y1="838.96" x2="126.5" y2="838.96" stroke="#1c1c1c" stroke-width="2.9" stroke-linecap="butt"/>
<line x1="617.3" y1="838.96" x2="610.3" y2="838.96" stroke="#1c1c1c" stroke-width="2.9" stroke-linecap="butt"/>
<line x1="119.5" y1="801.05" x2="126.5" y2="801.05" stroke="#1c1c1c" stroke-width="2.9" stroke-linecap="butt"/>
<line x1="617.3" y1="801.05" x2="610.3" y2="801.05" stroke="#1c1c1c" stroke-width="2.9" stroke-linecap="butt"/>
<line x1="119.5" y1="763.14" x2="126.5" y2="763.14" stroke="#1c1c1c" stroke-width="2.9" stroke-linecap="butt"/>
<line x1="617.3" y1="763.14" x2="610.3" y2="763.14" stroke="#1c1c1c" stroke-width="2.9" stroke-linecap="butt"/>
<line x1="119.5" y1="725.23" x2="126.5" y2="725.23" stroke="#1c1c1c" stroke-width="2.9" stroke-linecap="butt"/>
<line x1="617.3" y1="725.23" x2="610.3" y2="725.23" stroke="#1c1c1c" stroke-width="2.9" stroke-linecap="butt"/>
<line x1="119.5" y1="687.32" x2="126.5" y2="687.32" stroke="#1c1c1c" stroke-width="2.9" stroke-linecap="butt"/>
<line x1="617.3" y1="687.32" x2="610.3" y2="687.32" stroke="#1c1c1c" stroke-width="2.9" stroke-linecap="butt"/>
<line x1="119.5" y1="649.41" x2="126.5" y2="649.41" stroke="#1c1c1c" stroke-width="2.9" stroke-linecap="butt"/>
<line x1="617.3" y1="649.41" x2="610.3" y2="649.41" stroke="#1c1c1c" stroke-width="2.9" stroke-linecap="butt"/>
<text class="sans" transform="translate(90.43 1019.8) scale(1.0705 1)" font-size="23.29">2080</text>
<text class="sans" transform="translate(161.36 1019.8) scale(1.0705 1)" font-size="23.29">2100</text>
<text class="sans" transform="translate(232.29 1019.8) scale(1.0705 1)" font-size="23.29">2120</text>
<text class="sans" transform="translate(303.22 1019.8) scale(1.0705 1)" font-size="23.29">2140</text>
<text class="sans" transform="translate(374.14 1019.8) scale(1.0705 1)" font-size="23.29">2160</text>
<text class="sans" transform="translate(445.07 1019.8) scale(1.0705 1)" font-size="23.29">2180</text>
<text class="sans" transform="translate(516 1019.8) scale(1.0705 1)" font-size="23.29">2200</text>
<text class="sans" transform="translate(586.93 1019.8) scale(1.0705 1)" font-size="23.29">2220</text>
<text class="sans" transform="translate(81.7 960.79) scale(1.0315 1)" font-size="23.71">0.1</text>
<text class="sans" transform="translate(81.7 922.88) scale(1.0640 1)" font-size="23.71">0.2</text>
<text class="sans" transform="translate(81.7 884.97) scale(1.0315 1)" font-size="23.71">0.3</text>
<text class="sans" transform="translate(81.7 847.06) scale(1.0315 1)" font-size="23.71">0.4</text>
<text class="sans" transform="translate(81.7 809.15) scale(1.0315 1)" font-size="23.71">0.5</text>
<text class="sans" transform="translate(81.7 771.24) scale(1.0315 1)" font-size="23.71">0.6</text>
<text class="sans" transform="translate(81.7 733.33) scale(1.0640 1)" font-size="23.71">0.7</text>
<text class="sans" transform="translate(81.7 695.42) scale(1.0315 1)" font-size="23.71">0.8</text>
<text class="sans" transform="translate(81.7 657.51) scale(1.0315 1)" font-size="23.71">0.9</text>
<text class="sans" transform="translate(94.44 620.1) scale(1.0600 1)" font-size="23.71">1</text>
<text class="sans" transform="translate(94.2 996.2) scale(0.9692 1)" font-size="23.71">0</text>
<text class="sans" transform="translate(226.2 1049.1) scale(1.0103 1)" font-size="28.84">Wavenumber (cm</text>
<text class="sans sm" transform="translate(455.1 1038.2) scale(0.9493 1)" font-size="15.22">-1</text>
<text class="sans" transform="translate(470.7 1049.1) scale(0.9375 1)" font-size="28.84">)</text>
<text class="sans" transform="translate(333.41 590.4) scale(1.0432 1)" font-size="28.99">Brain</text>
<text class="sans" transform="translate(65.1 960.55) rotate(-90) scale(1.0266 1)" font-size="28.49">Normalized absorbance</text>
<clipPath id="cCe"><rect x="700.5" y="611" width="497.8" height="380.6"/></clipPath>
<line x1="915.76" y1="612" x2="915.76" y2="990.6" stroke="#111" stroke-width="2" stroke-linecap="butt" stroke-dasharray="4.4 4"/>
<line x1="1052.46" y1="612" x2="1052.46" y2="990.6" stroke="#111" stroke-width="2" stroke-linecap="butt" stroke-dasharray="4.4 4"/>
<path d="M701.52 987.48C703.25 986.18 715.64 976.91 718.81 974.52C721.98 972.12 730.33 965.93 733.21 963.57C736.09 961.21 744.45 953.48 747.62 950.89C750.79 948.3 761.73 940.12 764.9 937.64C768.07 935.16 776.48 928.48 779.31 926.12C782.13 923.75 790.4 917.1 793.14 914.02C795.87 910.93 803.88 900.19 806.68 895.29C809.47 890.39 818.34 871.81 821.08 865.04C823.82 858.27 831.45 835.66 834.04 827.59C836.64 819.52 844.27 794.46 847.01 784.38C849.75 774.29 858.68 737.56 861.41 726.76C864.15 715.96 871.64 685.85 874.38 676.34C877.11 666.84 885.96 637.94 888.78 631.69C891.6 625.44 900.16 615.5 902.61 613.83C905.06 612.16 911.19 613.63 913.27 614.98C915.34 616.33 921.19 623.97 923.35 627.37C925.51 630.77 932.57 644.37 934.88 648.98C937.18 653.58 944.09 668.57 946.4 673.46C948.7 678.36 955.62 693.2 957.92 697.95C960.23 702.7 967.14 716.68 969.45 721C971.75 725.32 978.66 737.42 980.97 741.16C983.27 744.91 989.9 754.7 992.49 758.45C995.09 762.19 1004.02 774.73 1006.9 778.61C1009.78 782.5 1018.42 793.6 1021.3 797.34C1024.18 801.09 1032.68 812.03 1035.71 816.07C1038.73 820.1 1048.67 833.64 1051.55 837.67C1054.43 841.71 1061.78 852.51 1064.52 856.4C1067.25 860.29 1076.04 872.53 1078.92 876.57C1081.8 880.6 1090.44 892.99 1093.32 896.73C1096.2 900.48 1104.85 910.7 1107.73 914.02C1110.61 917.33 1119.25 926.84 1122.13 929.86C1125.01 932.89 1133.66 941.53 1136.54 944.27C1139.42 947 1148.06 954.78 1150.94 957.23C1153.82 959.68 1162.47 966.68 1165.35 968.75C1168.23 970.83 1176.58 976.1 1179.75 977.97C1182.92 979.84 1195.31 986.53 1197.04 987.48" fill="none" stroke="#dc1420" stroke-width="3" stroke-linejoin="miter" stroke-miterlimit="2" stroke-linecap="butt" stroke-dasharray="9.3 7.4" clip-path="url(#cCe)"/>
<path d="M701.52 990.36C703.25 989.93 715.64 987.19 718.81 986.04C721.98 984.89 730.33 980.42 733.21 978.84C736.09 977.25 744.45 972.07 747.62 970.19C750.79 968.32 761.73 962.42 764.9 960.11C768.07 957.81 776.43 950.03 779.31 947.15C782.19 944.27 790.54 934.61 793.71 931.3C796.88 927.99 807.54 917.33 811 914.02C814.45 910.7 825.4 901.34 828.28 898.17C831.16 895 837.5 885.93 839.81 882.33C842.11 878.73 849.02 866.19 851.33 862.16C853.63 858.13 860.26 846.32 862.85 841.99C865.45 837.67 874.38 823.56 877.26 818.95C880.14 814.34 889.07 800.22 891.66 795.9C894.25 791.58 900.74 779.77 903.19 775.73C905.63 771.7 913.56 759.6 916.15 755.57C918.74 751.53 926.38 739.58 929.11 735.4C931.85 731.22 940.64 717.97 943.52 713.8C946.4 709.62 955.04 697.66 957.92 693.63C960.8 689.6 969.45 677.35 972.33 673.46C975.21 669.57 983.85 658.34 986.73 654.74C989.61 651.14 998.25 640.62 1001.14 637.45C1004.02 634.28 1012.95 625.35 1015.54 623.05C1018.13 620.74 1024.9 615.56 1027.06 614.4C1029.22 613.25 1035.13 611.58 1037.15 611.52C1039.16 611.47 1045.36 612.82 1047.23 613.83C1049.1 614.84 1054 619.1 1055.87 621.61C1057.75 624.11 1063.94 634.86 1065.96 638.89C1067.97 642.93 1073.88 656.61 1076.04 661.94C1078.2 667.27 1085.26 685.99 1087.56 692.19C1089.87 698.38 1096.78 717.4 1099.09 723.88C1101.39 730.36 1108.3 750.38 1110.61 757.01C1112.91 763.63 1119.83 783.37 1122.13 790.14C1124.44 796.91 1131.35 818.08 1133.66 824.71C1135.96 831.34 1142.88 850.06 1145.18 856.4C1147.48 862.74 1154.4 882.04 1156.7 888.09C1159.01 894.14 1165.92 911.14 1168.23 916.9C1170.53 922.66 1177.73 940.81 1179.75 945.71C1181.77 950.6 1186.66 961.98 1188.39 965.87C1190.12 969.76 1196.17 982.73 1197.04 984.6" fill="none" stroke="#1206bc" stroke-width="3" stroke-linejoin="miter" stroke-miterlimit="2" stroke-linecap="butt" stroke-dasharray="9.3 7.4" clip-path="url(#cCe)"/>
<path d="M701.52 987.48C702.68 986.52 716.7 974.8 718.81 973.07C720.92 971.35 731.29 963.09 733.21 961.55C735.13 960.01 745.51 951.66 747.62 950.03C749.73 948.4 762.79 938.7 764.9 937.06C767.02 935.43 777.43 927.17 779.31 925.54C781.19 923.91 791.31 914.88 793.14 912.58C794.96 910.27 804.81 894.52 806.68 890.97C808.54 887.42 819.26 863.89 821.08 859.28C822.9 854.67 832.32 827.21 834.04 821.83C835.77 816.45 845.18 785.14 847.01 778.61C848.83 772.08 859.59 730.79 861.41 723.88C863.24 716.96 872.55 680.95 874.38 674.9C876.2 668.85 886.9 637.26 888.78 633.13C890.66 629 900.78 614.37 902.61 612.96C904.43 611.56 914.38 611.33 916.15 612.1C917.92 612.87 927.29 622.22 929.11 624.49C930.94 626.75 941.69 643.21 943.52 646.09C945.34 648.98 954.66 665.01 956.48 667.7C958.31 670.39 969.06 684.37 970.89 686.43C972.71 688.48 982.12 697.14 983.85 698.53C985.58 699.91 994.99 706.06 996.81 707.17C998.64 708.28 1009.39 714.16 1011.22 715.24C1013.04 716.31 1022.36 721.67 1024.18 723.3C1026.01 724.93 1036.67 736.9 1038.59 739.72C1040.51 742.55 1051.17 762.1 1052.99 765.65C1054.82 769.2 1064.13 789.27 1065.96 793.02C1067.78 796.76 1078.54 818.08 1080.36 821.83C1082.18 825.57 1091.5 845.45 1093.32 849.2C1095.15 852.94 1105.9 874.45 1107.73 878.01C1109.55 881.56 1118.87 899.23 1120.69 902.49C1122.52 905.76 1133.27 924.1 1135.1 926.98C1136.92 929.86 1146.24 943.4 1148.06 945.71C1149.89 948.01 1160.54 959.67 1162.47 961.55C1164.39 963.43 1175.14 972.59 1176.87 973.94C1178.6 975.28 1187.05 980.81 1188.39 981.72C1189.74 982.62 1196.46 987.1 1197.04 987.48" fill="none" stroke="#0a0a0a" stroke-width="3.1" stroke-linejoin="miter" stroke-miterlimit="2" stroke-linecap="butt" clip-path="url(#cCe)"/>
<rect x="701.5" y="612" width="495.8" height="378.6" fill="none" stroke="#1c1c1c" stroke-width="2.9"/>
<line x1="772.33" y1="990.6" x2="772.33" y2="983.6" stroke="#1c1c1c" stroke-width="2.9" stroke-linecap="butt"/>
<line x1="772.33" y1="612" x2="772.33" y2="619" stroke="#1c1c1c" stroke-width="2.9" stroke-linecap="butt"/>
<line x1="843.16" y1="990.6" x2="843.16" y2="983.6" stroke="#1c1c1c" stroke-width="2.9" stroke-linecap="butt"/>
<line x1="843.16" y1="612" x2="843.16" y2="619" stroke="#1c1c1c" stroke-width="2.9" stroke-linecap="butt"/>
<line x1="913.99" y1="990.6" x2="913.99" y2="983.6" stroke="#1c1c1c" stroke-width="2.9" stroke-linecap="butt"/>
<line x1="913.99" y1="612" x2="913.99" y2="619" stroke="#1c1c1c" stroke-width="2.9" stroke-linecap="butt"/>
<line x1="984.81" y1="990.6" x2="984.81" y2="983.6" stroke="#1c1c1c" stroke-width="2.9" stroke-linecap="butt"/>
<line x1="984.81" y1="612" x2="984.81" y2="619" stroke="#1c1c1c" stroke-width="2.9" stroke-linecap="butt"/>
<line x1="1055.64" y1="990.6" x2="1055.64" y2="983.6" stroke="#1c1c1c" stroke-width="2.9" stroke-linecap="butt"/>
<line x1="1055.64" y1="612" x2="1055.64" y2="619" stroke="#1c1c1c" stroke-width="2.9" stroke-linecap="butt"/>
<line x1="1126.47" y1="990.6" x2="1126.47" y2="983.6" stroke="#1c1c1c" stroke-width="2.9" stroke-linecap="butt"/>
<line x1="1126.47" y1="612" x2="1126.47" y2="619" stroke="#1c1c1c" stroke-width="2.9" stroke-linecap="butt"/>
<line x1="701.5" y1="952.74" x2="708.5" y2="952.74" stroke="#1c1c1c" stroke-width="2.9" stroke-linecap="butt"/>
<line x1="1197.3" y1="952.74" x2="1190.3" y2="952.74" stroke="#1c1c1c" stroke-width="2.9" stroke-linecap="butt"/>
<line x1="701.5" y1="914.88" x2="708.5" y2="914.88" stroke="#1c1c1c" stroke-width="2.9" stroke-linecap="butt"/>
<line x1="1197.3" y1="914.88" x2="1190.3" y2="914.88" stroke="#1c1c1c" stroke-width="2.9" stroke-linecap="butt"/>
<line x1="701.5" y1="877.02" x2="708.5" y2="877.02" stroke="#1c1c1c" stroke-width="2.9" stroke-linecap="butt"/>
<line x1="1197.3" y1="877.02" x2="1190.3" y2="877.02" stroke="#1c1c1c" stroke-width="2.9" stroke-linecap="butt"/>
<line x1="701.5" y1="839.16" x2="708.5" y2="839.16" stroke="#1c1c1c" stroke-width="2.9" stroke-linecap="butt"/>
<line x1="1197.3" y1="839.16" x2="1190.3" y2="839.16" stroke="#1c1c1c" stroke-width="2.9" stroke-linecap="butt"/>
<line x1="701.5" y1="801.3" x2="708.5" y2="801.3" stroke="#1c1c1c" stroke-width="2.9" stroke-linecap="butt"/>
<line x1="1197.3" y1="801.3" x2="1190.3" y2="801.3" stroke="#1c1c1c" stroke-width="2.9" stroke-linecap="butt"/>
<line x1="701.5" y1="763.44" x2="708.5" y2="763.44" stroke="#1c1c1c" stroke-width="2.9" stroke-linecap="butt"/>
<line x1="1197.3" y1="763.44" x2="1190.3" y2="763.44" stroke="#1c1c1c" stroke-width="2.9" stroke-linecap="butt"/>
<line x1="701.5" y1="725.58" x2="708.5" y2="725.58" stroke="#1c1c1c" stroke-width="2.9" stroke-linecap="butt"/>
<line x1="1197.3" y1="725.58" x2="1190.3" y2="725.58" stroke="#1c1c1c" stroke-width="2.9" stroke-linecap="butt"/>
<line x1="701.5" y1="687.72" x2="708.5" y2="687.72" stroke="#1c1c1c" stroke-width="2.9" stroke-linecap="butt"/>
<line x1="1197.3" y1="687.72" x2="1190.3" y2="687.72" stroke="#1c1c1c" stroke-width="2.9" stroke-linecap="butt"/>
<line x1="701.5" y1="649.86" x2="708.5" y2="649.86" stroke="#1c1c1c" stroke-width="2.9" stroke-linecap="butt"/>
<line x1="1197.3" y1="649.86" x2="1190.3" y2="649.86" stroke="#1c1c1c" stroke-width="2.9" stroke-linecap="butt"/>
<text class="sans" transform="translate(672.13 1019.8) scale(1.0705 1)" font-size="23.29">2080</text>
<text class="sans" transform="translate(743.46 1019.8) scale(1.0705 1)" font-size="23.29">2100</text>
<text class="sans" transform="translate(814.79 1019.8) scale(1.0705 1)" font-size="23.29">2120</text>
<text class="sans" transform="translate(886.12 1019.8) scale(1.0705 1)" font-size="23.29">2140</text>
<text class="sans" transform="translate(957.44 1019.8) scale(1.0705 1)" font-size="23.29">2160</text>
<text class="sans" transform="translate(1028.77 1019.8) scale(1.0705 1)" font-size="23.29">2180</text>
<text class="sans" transform="translate(1100.1 1019.8) scale(1.0705 1)" font-size="23.29">2200</text>
<text class="sans" transform="translate(1171.43 1019.8) scale(1.0705 1)" font-size="23.29">2220</text>
<text class="sans" transform="translate(663.7 960.84) scale(1.0315 1)" font-size="23.71">0.1</text>
<text class="sans" transform="translate(663.7 922.98) scale(1.0640 1)" font-size="23.71">0.2</text>
<text class="sans" transform="translate(663.7 885.12) scale(1.0315 1)" font-size="23.71">0.3</text>
<text class="sans" transform="translate(663.7 847.26) scale(1.0315 1)" font-size="23.71">0.4</text>
<text class="sans" transform="translate(663.7 809.4) scale(1.0315 1)" font-size="23.71">0.5</text>
<text class="sans" transform="translate(663.7 771.54) scale(1.0315 1)" font-size="23.71">0.6</text>
<text class="sans" transform="translate(663.7 733.68) scale(1.0640 1)" font-size="23.71">0.7</text>
<text class="sans" transform="translate(663.7 695.82) scale(1.0315 1)" font-size="23.71">0.8</text>
<text class="sans" transform="translate(663.7 657.96) scale(1.0315 1)" font-size="23.71">0.9</text>
<text class="sans" transform="translate(676.44 620.6) scale(1.0600 1)" font-size="23.71">1</text>
<text class="sans" transform="translate(676.6 995.8) scale(0.9692 1)" font-size="23.71">0</text>
<text class="sans" transform="translate(816.2 1051.4) scale(1.0103 1)" font-size="28.84">Wavenumber (cm</text>
<text class="sans sm" transform="translate(1045.1 1040.5) scale(0.9493 1)" font-size="15.22">-1</text>
<text class="sans" transform="translate(1060.7 1051.4) scale(0.9375 1)" font-size="28.84">)</text>
<text class="sans" transform="translate(872.98 590.4) scale(1.0172 1)" font-size="28.99">Cerebellum</text>
<clipPath id="cLi"><rect x="1277.7" y="611.8" width="498.9" height="380.4"/></clipPath>
<line x1="1493.43" y1="612.8" x2="1493.43" y2="991.2" stroke="#111" stroke-width="2" stroke-linecap="butt" stroke-dasharray="4.4 4"/>
<line x1="1630.43" y1="612.8" x2="1630.43" y2="991.2" stroke="#111" stroke-width="2" stroke-linecap="butt" stroke-dasharray="4.4 4"/>
<path d="M1278.64 987.48C1279.8 986.18 1287.57 977.54 1290.17 974.52C1292.76 971.49 1301.69 960.83 1304.57 957.23C1307.45 953.63 1316.09 941.96 1318.98 938.5C1321.86 935.05 1330.5 925.54 1333.38 922.66C1336.26 919.78 1344.9 912.14 1347.78 909.7C1350.66 907.25 1359.31 900.76 1362.19 898.17C1365.07 895.58 1373.71 887.37 1376.59 883.77C1379.47 880.17 1388.12 867.49 1391 862.16C1393.88 856.83 1402.81 836.52 1405.4 830.47C1407.99 824.42 1414.62 807.71 1416.93 801.66C1419.23 795.61 1426.29 776.6 1428.45 769.97C1430.61 763.35 1436.66 742.6 1438.53 735.4C1440.4 728.2 1445.3 705.44 1447.17 697.95C1449.05 690.46 1455.1 667.12 1457.26 660.5C1459.42 653.87 1466.48 636.01 1468.78 631.69C1471.09 627.37 1478.14 619.16 1480.3 617.29C1482.47 615.41 1488.37 612.96 1490.39 612.96C1492.4 612.96 1498.31 615.7 1500.47 617.29C1502.63 618.87 1509.69 625.78 1511.99 628.81C1514.3 631.83 1521.21 643.79 1523.52 647.53C1525.82 651.28 1532.74 662.66 1535.04 666.26C1537.35 669.86 1544.26 680.23 1546.57 683.55C1548.87 686.86 1555.78 696.37 1558.09 699.39C1560.39 702.42 1567.31 711.06 1569.61 713.8C1571.92 716.53 1578.83 724.02 1581.14 726.76C1583.44 729.5 1590.35 737.99 1592.66 741.16C1594.96 744.33 1601.88 754.99 1604.18 758.45C1606.49 761.91 1613.11 771.7 1615.71 775.73C1618.3 779.77 1627.23 794.17 1630.11 798.78C1632.99 803.39 1641.63 816.93 1644.52 821.83C1647.4 826.73 1656.04 842.71 1658.92 847.76C1661.8 852.8 1670.44 867.63 1673.32 872.24C1676.2 876.85 1684.85 889.82 1687.73 893.85C1690.61 897.88 1699.25 908.98 1702.13 912.58C1705.01 916.18 1713.66 926.55 1716.54 929.86C1719.42 933.17 1728.06 942.68 1730.94 945.71C1733.82 948.73 1742.47 957.37 1745.35 960.11C1748.23 962.85 1756.73 970.48 1759.75 973.07C1762.78 975.67 1774.01 984.74 1775.6 986.04" fill="none" stroke="#dc1420" stroke-width="3" stroke-linejoin="miter" stroke-miterlimit="2" stroke-linecap="butt" stroke-dasharray="9.3 7.4" clip-path="url(#cLi)"/>
<path d="M1278.64 987.48C1280.08 986.47 1289.88 979.41 1293.05 977.4C1296.22 975.38 1306.88 969.1 1310.33 967.31C1313.79 965.53 1324.16 961.26 1327.62 959.53C1331.07 957.81 1341.45 952.56 1344.9 950.03C1348.36 947.49 1358.73 937.35 1362.19 934.18C1365.65 931.01 1376.02 921.65 1379.47 918.34C1382.93 915.02 1393.3 904.94 1396.76 901.05C1400.22 897.16 1410.88 883.91 1414.04 879.45C1417.21 874.98 1425.57 861.3 1428.45 856.4C1431.33 851.5 1439.97 835.66 1442.85 830.47C1445.73 825.29 1454.38 809.73 1457.26 804.54C1460.14 799.36 1469.07 783.22 1471.66 778.61C1474.25 774.01 1480.88 762.34 1483.19 758.45C1485.49 754.56 1492.12 744.04 1494.71 739.72C1497.3 735.4 1506.23 719.7 1509.11 715.24C1511.99 710.77 1520.64 699.25 1523.52 695.07C1526.4 690.89 1535.04 677.64 1537.92 673.46C1540.8 669.29 1549.45 657.04 1552.33 653.3C1555.21 649.55 1563.85 639.18 1566.73 636.01C1569.61 632.84 1578.54 623.71 1581.14 621.61C1583.73 619.5 1590.35 615.9 1592.66 614.98C1594.96 614.06 1601.88 612.45 1604.18 612.39C1606.49 612.33 1613.4 613.48 1615.71 614.4C1618.01 615.33 1624.93 619.59 1627.23 621.61C1629.53 623.62 1636.45 631.55 1638.75 634.57C1641.06 637.6 1647.97 647.53 1650.28 651.86C1652.58 656.18 1659.5 672.17 1661.8 677.78C1664.11 683.4 1671.02 701.7 1673.32 708.03C1675.63 714.37 1682.54 734.39 1684.85 741.16C1687.15 747.93 1694.07 769.11 1696.37 775.73C1698.68 782.36 1705.59 800.8 1707.89 807.42C1710.2 814.05 1717.11 835.08 1719.42 841.99C1721.72 848.91 1728.64 869.94 1730.94 876.57C1733.25 883.19 1740.16 902.2 1742.47 908.25C1744.77 914.3 1751.68 931.59 1753.99 937.06C1756.29 942.54 1763.35 958.67 1765.51 962.99C1767.67 967.31 1774.59 978.55 1775.6 980.28" fill="none" stroke="#1206bc" stroke-width="3" stroke-linejoin="miter" stroke-miterlimit="2" stroke-linecap="butt" stroke-dasharray="9.3 7.4" clip-path="url(#cLi)"/>
<path d="M1278.64 987.48C1279.41 986.52 1288.53 975.19 1290.17 973.07C1291.8 970.96 1301.4 958.38 1303.13 955.79C1304.86 953.2 1314.27 937.16 1316.09 934.18C1317.92 931.21 1328.67 913.98 1330.5 911.14C1332.32 908.29 1341.73 893.37 1343.46 891.55C1345.19 889.72 1354.6 884.96 1356.43 883.77C1358.25 882.58 1368.91 875.32 1370.83 873.68C1372.75 872.05 1383.41 861.58 1385.24 859.28C1387.06 856.98 1396.37 842.19 1398.2 839.11C1400.02 836.04 1410.78 817.03 1412.6 813.19C1414.43 809.34 1423.74 786.11 1425.57 781.5C1427.39 776.89 1438.15 748.94 1439.97 744.04C1441.8 739.15 1451.11 712.45 1452.94 708.03C1454.76 703.62 1465.52 681.34 1467.34 677.78C1469.17 674.23 1478.48 657.23 1480.3 654.74C1482.13 652.24 1492.88 641.91 1494.71 640.33C1496.53 638.76 1505.85 632.11 1507.67 631.11C1509.5 630.11 1520.25 626.12 1522.08 625.35C1523.9 624.58 1533.22 620.26 1535.04 619.59C1536.87 618.92 1547.62 615.71 1549.45 615.27C1551.27 614.83 1560.68 612.48 1562.41 612.96C1564.14 613.44 1573.55 621.26 1575.37 622.47C1577.2 623.68 1587.95 629.96 1589.78 631.11C1591.6 632.27 1601.01 638.6 1602.74 639.76C1604.47 640.91 1613.88 647.02 1615.71 648.4C1617.53 649.78 1628.19 658.54 1630.11 660.5C1632.03 662.46 1642.69 675.1 1644.52 677.78C1646.34 680.47 1655.65 697.28 1657.48 700.83C1659.3 704.38 1670.06 726.57 1671.88 731.08C1673.71 735.59 1683.02 763.25 1684.85 768.53C1686.67 773.81 1697.43 804.83 1699.25 810.3C1701.08 815.78 1710.39 845.26 1712.22 850.64C1714.04 856.01 1724.8 886.07 1726.62 890.97C1728.45 895.87 1737.76 919.97 1739.58 924.1C1741.41 928.23 1752.26 949.74 1753.99 952.91C1755.72 956.08 1764.07 969.43 1765.51 971.63C1766.95 973.84 1774.92 985.08 1775.6 986.04" fill="none" stroke="#0a0a0a" stroke-width="3.1" stroke-linejoin="miter" stroke-miterlimit="2" stroke-linecap="butt" clip-path="url(#cLi)"/>
<rect x="1278.7" y="612.8" width="496.9" height="378.4" fill="none" stroke="#1c1c1c" stroke-width="2.9"/>
<line x1="1349.69" y1="991.2" x2="1349.69" y2="984.2" stroke="#1c1c1c" stroke-width="2.9" stroke-linecap="butt"/>
<line x1="1349.69" y1="612.8" x2="1349.69" y2="619.8" stroke="#1c1c1c" stroke-width="2.9" stroke-linecap="butt"/>
<line x1="1420.67" y1="991.2" x2="1420.67" y2="984.2" stroke="#1c1c1c" stroke-width="2.9" stroke-linecap="butt"/>
<line x1="1420.67" y1="612.8" x2="1420.67" y2="619.8" stroke="#1c1c1c" stroke-width="2.9" stroke-linecap="butt"/>
<line x1="1491.66" y1="991.2" x2="1491.66" y2="984.2" stroke="#1c1c1c" stroke-width="2.9" stroke-linecap="butt"/>
<line x1="1491.66" y1="612.8" x2="1491.66" y2="619.8" stroke="#1c1c1c" stroke-width="2.9" stroke-linecap="butt"/>
<line x1="1562.64" y1="991.2" x2="1562.64" y2="984.2" stroke="#1c1c1c" stroke-width="2.9" stroke-linecap="butt"/>
<line x1="1562.64" y1="612.8" x2="1562.64" y2="619.8" stroke="#1c1c1c" stroke-width="2.9" stroke-linecap="butt"/>
<line x1="1633.63" y1="991.2" x2="1633.63" y2="984.2" stroke="#1c1c1c" stroke-width="2.9" stroke-linecap="butt"/>
<line x1="1633.63" y1="612.8" x2="1633.63" y2="619.8" stroke="#1c1c1c" stroke-width="2.9" stroke-linecap="butt"/>
<line x1="1704.61" y1="991.2" x2="1704.61" y2="984.2" stroke="#1c1c1c" stroke-width="2.9" stroke-linecap="butt"/>
<line x1="1704.61" y1="612.8" x2="1704.61" y2="619.8" stroke="#1c1c1c" stroke-width="2.9" stroke-linecap="butt"/>
<line x1="1278.7" y1="953.36" x2="1285.7" y2="953.36" stroke="#1c1c1c" stroke-width="2.9" stroke-linecap="butt"/>
<line x1="1775.6" y1="953.36" x2="1768.6" y2="953.36" stroke="#1c1c1c" stroke-width="2.9" stroke-linecap="butt"/>
<line x1="1278.7" y1="915.52" x2="1285.7" y2="915.52" stroke="#1c1c1c" stroke-width="2.9" stroke-linecap="butt"/>
<line x1="1775.6" y1="915.52" x2="1768.6" y2="915.52" stroke="#1c1c1c" stroke-width="2.9" stroke-linecap="butt"/>
<line x1="1278.7" y1="877.68" x2="1285.7" y2="877.68" stroke="#1c1c1c" stroke-width="2.9" stroke-linecap="butt"/>
<line x1="1775.6" y1="877.68" x2="1768.6" y2="877.68" stroke="#1c1c1c" stroke-width="2.9" stroke-linecap="butt"/>
<line x1="1278.7" y1="839.84" x2="1285.7" y2="839.84" stroke="#1c1c1c" stroke-width="2.9" stroke-linecap="butt"/>
<line x1="1775.6" y1="839.84" x2="1768.6" y2="839.84" stroke="#1c1c1c" stroke-width="2.9" stroke-linecap="butt"/>
<line x1="1278.7" y1="802" x2="1285.7" y2="802" stroke="#1c1c1c" stroke-width="2.9" stroke-linecap="butt"/>
<line x1="1775.6" y1="802" x2="1768.6" y2="802" stroke="#1c1c1c" stroke-width="2.9" stroke-linecap="butt"/>
<line x1="1278.7" y1="764.16" x2="1285.7" y2="764.16" stroke="#1c1c1c" stroke-width="2.9" stroke-linecap="butt"/>
<line x1="1775.6" y1="764.16" x2="1768.6" y2="764.16" stroke="#1c1c1c" stroke-width="2.9" stroke-linecap="butt"/>
<line x1="1278.7" y1="726.32" x2="1285.7" y2="726.32" stroke="#1c1c1c" stroke-width="2.9" stroke-linecap="butt"/>
<line x1="1775.6" y1="726.32" x2="1768.6" y2="726.32" stroke="#1c1c1c" stroke-width="2.9" stroke-linecap="butt"/>
<line x1="1278.7" y1="688.48" x2="1285.7" y2="688.48" stroke="#1c1c1c" stroke-width="2.9" stroke-linecap="butt"/>
<line x1="1775.6" y1="688.48" x2="1768.6" y2="688.48" stroke="#1c1c1c" stroke-width="2.9" stroke-linecap="butt"/>
<line x1="1278.7" y1="650.64" x2="1285.7" y2="650.64" stroke="#1c1c1c" stroke-width="2.9" stroke-linecap="butt"/>
<line x1="1775.6" y1="650.64" x2="1768.6" y2="650.64" stroke="#1c1c1c" stroke-width="2.9" stroke-linecap="butt"/>
<text class="sans" transform="translate(1253.23 1020.5) scale(1.0705 1)" font-size="23.29">2080</text>
<text class="sans" transform="translate(1324.06 1020.5) scale(1.0705 1)" font-size="23.29">2100</text>
<text class="sans" transform="translate(1394.89 1020.5) scale(1.0705 1)" font-size="23.29">2120</text>
<text class="sans" transform="translate(1465.72 1020.5) scale(1.0705 1)" font-size="23.29">2140</text>
<text class="sans" transform="translate(1536.54 1020.5) scale(1.0705 1)" font-size="23.29">2160</text>
<text class="sans" transform="translate(1607.37 1020.5) scale(1.0705 1)" font-size="23.29">2180</text>
<text class="sans" transform="translate(1678.2 1020.5) scale(1.0705 1)" font-size="23.29">2200</text>
<text class="sans" transform="translate(1749.03 1020.5) scale(1.0705 1)" font-size="23.29">2220</text>
<text class="sans" transform="translate(1240.9 961.46) scale(1.0315 1)" font-size="23.71">0.1</text>
<text class="sans" transform="translate(1240.9 923.62) scale(1.0640 1)" font-size="23.71">0.2</text>
<text class="sans" transform="translate(1240.9 885.78) scale(1.0315 1)" font-size="23.71">0.3</text>
<text class="sans" transform="translate(1240.9 847.94) scale(1.0315 1)" font-size="23.71">0.4</text>
<text class="sans" transform="translate(1240.9 810.1) scale(1.0315 1)" font-size="23.71">0.5</text>
<text class="sans" transform="translate(1240.9 772.26) scale(1.0315 1)" font-size="23.71">0.6</text>
<text class="sans" transform="translate(1240.9 734.42) scale(1.0640 1)" font-size="23.71">0.7</text>
<text class="sans" transform="translate(1240.9 696.58) scale(1.0315 1)" font-size="23.71">0.8</text>
<text class="sans" transform="translate(1240.9 658.74) scale(1.0315 1)" font-size="23.71">0.9</text>
<text class="sans" transform="translate(1253.64 621.4) scale(1.0600 1)" font-size="23.71">1</text>
<text class="sans" transform="translate(1254.5 992.1) scale(0.9692 1)" font-size="23.71">0</text>
<text class="sans" transform="translate(1406.8 1053.1) scale(1.0103 1)" font-size="28.84">Wavenumber (cm</text>
<text class="sans sm" transform="translate(1635.7 1042.2) scale(0.9493 1)" font-size="15.22">-1</text>
<text class="sans" transform="translate(1651.3 1053.1) scale(0.9375 1)" font-size="28.84">)</text>
<text class="sans" transform="translate(1491.33 590.2) scale(0.9862 1)" font-size="28.99">Liver</text>
<clipPath id="cIn"><rect x="114.2" y="1225.3" width="500.3" height="381.9"/></clipPath>
<line x1="330.54" y1="1226.3" x2="330.54" y2="1606.2" stroke="#111" stroke-width="2" stroke-linecap="butt" stroke-dasharray="4.4 4"/>
<line x1="467.93" y1="1226.3" x2="467.93" y2="1606.2" stroke="#111" stroke-width="2" stroke-linecap="butt" stroke-dasharray="4.4 4"/>
<path d="M115.19 1602.48C116.4 1601.33 124.63 1593.55 127.29 1590.96C129.94 1588.36 138.81 1579.14 141.69 1576.55C144.57 1573.96 153.21 1567.04 156.09 1565.03C158.98 1563.01 167.62 1558.26 170.5 1556.39C173.38 1554.51 182.02 1548.61 184.9 1546.3C187.78 1544 196.43 1536.22 199.31 1533.34C202.19 1530.46 211.12 1521.09 213.71 1517.49C216.3 1513.89 222.93 1502.22 225.24 1497.33C227.54 1492.43 234.45 1474.86 236.76 1468.52C239.06 1462.18 246.27 1441.15 248.28 1433.95C250.3 1426.75 255.05 1403.99 256.93 1396.5C258.8 1389.01 264.99 1366.82 267.01 1359.04C269.02 1351.27 275.22 1326.49 277.09 1318.71C278.96 1310.93 284.01 1287.89 285.73 1281.26C287.46 1274.63 292.65 1256.92 294.38 1252.45C296.11 1247.99 301.29 1238.97 303.02 1236.61C304.75 1234.24 310.22 1229.69 311.66 1228.83C313.1 1227.96 316.13 1227.19 317.42 1227.96C318.72 1228.74 323.04 1233.87 324.63 1236.61C326.21 1239.34 331.4 1250.87 333.27 1255.33C335.14 1259.8 341.19 1275.5 343.35 1281.26C345.51 1287.02 352.57 1306.61 354.88 1312.95C357.18 1319.29 364.09 1338.73 366.4 1344.64C368.7 1350.55 375.62 1367.11 377.92 1372.01C380.23 1376.91 387.14 1389.87 389.45 1393.61C391.75 1397.36 398.66 1406.87 400.97 1409.46C403.27 1412.05 409.9 1417.53 412.49 1419.54C415.09 1421.56 424.02 1427.47 426.9 1429.63C429.78 1431.79 438.57 1438.41 441.3 1441.15C444.04 1443.89 451.67 1453.68 454.27 1456.99C456.86 1460.31 464.64 1470.68 467.23 1474.28C469.82 1477.88 477.6 1489.55 480.19 1493.01C482.79 1496.46 490.42 1505.54 493.16 1508.85C495.89 1512.16 504.68 1522.97 507.56 1526.14C510.44 1529.3 519.09 1537.89 521.97 1540.54C524.85 1543.19 533.49 1550.34 536.37 1552.64C539.25 1554.94 547.89 1561.48 550.78 1563.59C553.66 1565.69 562.3 1571.71 565.18 1573.67C568.06 1575.63 576.7 1581.36 579.58 1583.18C582.47 1584.99 590.59 1589.89 593.99 1591.82C597.39 1593.75 611.62 1601.41 613.58 1602.48" fill="none" stroke="#dc1420" stroke-width="3" stroke-linejoin="miter" stroke-miterlimit="2" stroke-linecap="butt" stroke-dasharray="9.3 7.4" clip-path="url(#cIn)"/>
<path d="M115.19 1602.48C116.4 1601.61 124.63 1595.85 127.29 1593.84C129.94 1591.82 138.81 1584.7 141.69 1582.31C144.57 1579.92 153.21 1572.37 156.09 1569.93C158.98 1567.48 167.62 1560.19 170.5 1557.83C173.38 1555.46 182.02 1548.46 184.9 1546.3C187.78 1544.14 196.43 1538.52 199.31 1536.22C202.19 1533.91 210.83 1526.14 213.71 1523.25C216.59 1520.37 225.24 1510.72 228.12 1507.41C231 1504.1 239.64 1493.73 242.52 1490.12C245.4 1486.52 254.04 1475.29 256.93 1471.4C259.81 1467.51 268.45 1455.55 271.33 1451.23C274.21 1446.91 282.85 1433.08 285.73 1428.19C288.61 1423.29 297.26 1407.3 300.14 1402.26C303.02 1397.22 311.52 1382.67 314.54 1377.77C317.57 1372.87 327.51 1358.04 330.39 1353.28C333.27 1348.53 340.61 1334.84 343.35 1330.24C346.09 1325.63 354.88 1311.65 357.76 1307.19C360.64 1302.72 369.28 1289.61 372.16 1285.58C375.04 1281.55 383.68 1270.46 386.57 1266.86C389.45 1263.25 398.09 1252.45 400.97 1249.57C403.85 1246.69 412.49 1240.06 415.37 1238.05C418.25 1236.03 427.19 1230.56 429.78 1229.4C432.37 1228.25 439 1226.58 441.3 1226.52C443.61 1226.47 450.52 1227.82 452.83 1228.83C455.13 1229.84 462.04 1234.53 464.35 1236.61C466.65 1238.68 473.57 1246.4 475.87 1249.57C478.18 1252.74 485.09 1263.98 487.4 1268.3C489.7 1272.62 496.61 1287.45 498.92 1292.78C501.22 1298.11 508.14 1315.54 510.44 1321.59C512.75 1327.64 519.66 1346.66 521.97 1353.28C524.27 1359.91 531.19 1380.94 533.49 1387.85C535.8 1394.77 542.71 1415.51 545.01 1422.42C547.32 1429.34 554.23 1450.08 556.54 1456.99C558.84 1463.91 565.76 1484.94 568.06 1491.57C570.37 1498.19 577.28 1517.2 579.58 1523.25C581.89 1529.3 588.8 1546.59 591.11 1552.06C593.41 1557.54 600.38 1573.53 602.63 1577.99C604.88 1582.46 612.48 1594.84 613.58 1596.72" fill="none" stroke="#1206bc" stroke-width="3" stroke-linejoin="miter" stroke-miterlimit="2" stroke-linecap="butt" stroke-dasharray="9.3 7.4" clip-path="url(#cIn)"/>
<path d="M115.19 1602.48C115.99 1601.71 125.52 1592.68 127.29 1590.96C129.05 1589.23 139.96 1578.28 141.69 1576.55C143.42 1574.82 151.58 1566.66 153.21 1565.03C154.85 1563.4 164.45 1554.08 166.18 1552.06C167.91 1550.05 177.32 1536.8 179.14 1534.78C180.97 1532.76 191.63 1523.83 193.55 1521.81C195.47 1519.8 206.13 1507.31 207.95 1504.53C209.77 1501.74 219.19 1483.59 220.91 1480.04C222.64 1476.49 232.05 1455.65 233.88 1451.23C235.7 1446.82 246.46 1418.77 248.28 1413.78C250.11 1408.79 259.42 1381.71 261.25 1376.33C263.07 1370.95 273.83 1338.4 275.65 1333.12C277.48 1327.83 286.79 1301.33 288.61 1297.11C290.44 1292.88 301.19 1272.37 303.02 1269.74C304.84 1267.11 314.16 1258.83 315.98 1257.64C317.81 1256.45 328.56 1252.3 330.39 1251.88C332.21 1251.45 341.53 1251.18 343.35 1251.3C345.18 1251.41 355.93 1253.57 357.76 1253.6C359.58 1253.64 368.9 1252.34 370.72 1251.88C372.54 1251.41 383.3 1247.61 385.12 1246.69C386.95 1245.77 396.26 1239.1 398.09 1238.05C399.91 1236.99 410.67 1231.61 412.49 1230.84C414.32 1230.08 423.63 1226.58 425.46 1226.52C427.28 1226.47 438.04 1229.21 439.86 1229.98C441.69 1230.75 451 1236.16 452.83 1238.05C454.65 1239.93 465.41 1255.14 467.23 1258.21C469.05 1261.29 478.37 1280.11 480.19 1284.14C482.02 1288.17 492.77 1314.1 494.6 1318.71C496.42 1323.32 505.74 1348.29 507.56 1353.28C509.39 1358.28 520.14 1388.24 521.97 1393.61C523.79 1398.99 533.11 1428.57 534.93 1433.95C536.76 1439.33 547.51 1469.48 549.34 1474.28C551.16 1479.08 560.47 1501.74 562.3 1505.97C564.12 1510.19 574.88 1533.82 576.7 1537.66C578.53 1541.5 587.94 1560.42 589.67 1563.59C591.4 1566.76 601.04 1582.7 602.63 1585.19C604.23 1587.69 612.85 1599.98 613.58 1601.04" fill="none" stroke="#0a0a0a" stroke-width="3.1" stroke-linejoin="miter" stroke-miterlimit="2" stroke-linecap="butt" clip-path="url(#cIn)"/>
<rect x="115.2" y="1226.3" width="498.3" height="379.9" fill="none" stroke="#1c1c1c" stroke-width="2.9"/>
<line x1="186.39" y1="1606.2" x2="186.39" y2="1599.2" stroke="#1c1c1c" stroke-width="2.9" stroke-linecap="butt"/>
<line x1="186.39" y1="1226.3" x2="186.39" y2="1233.3" stroke="#1c1c1c" stroke-width="2.9" stroke-linecap="butt"/>
<line x1="257.57" y1="1606.2" x2="257.57" y2="1599.2" stroke="#1c1c1c" stroke-width="2.9" stroke-linecap="butt"/>
<line x1="257.57" y1="1226.3" x2="257.57" y2="1233.3" stroke="#1c1c1c" stroke-width="2.9" stroke-linecap="butt"/>
<line x1="328.76" y1="1606.2" x2="328.76" y2="1599.2" stroke="#1c1c1c" stroke-width="2.9" stroke-linecap="butt"/>
<line x1="328.76" y1="1226.3" x2="328.76" y2="1233.3" stroke="#1c1c1c" stroke-width="2.9" stroke-linecap="butt"/>
<line x1="399.94" y1="1606.2" x2="399.94" y2="1599.2" stroke="#1c1c1c" stroke-width="2.9" stroke-linecap="butt"/>
<line x1="399.94" y1="1226.3" x2="399.94" y2="1233.3" stroke="#1c1c1c" stroke-width="2.9" stroke-linecap="butt"/>
<line x1="471.13" y1="1606.2" x2="471.13" y2="1599.2" stroke="#1c1c1c" stroke-width="2.9" stroke-linecap="butt"/>
<line x1="471.13" y1="1226.3" x2="471.13" y2="1233.3" stroke="#1c1c1c" stroke-width="2.9" stroke-linecap="butt"/>
<line x1="542.31" y1="1606.2" x2="542.31" y2="1599.2" stroke="#1c1c1c" stroke-width="2.9" stroke-linecap="butt"/>
<line x1="542.31" y1="1226.3" x2="542.31" y2="1233.3" stroke="#1c1c1c" stroke-width="2.9" stroke-linecap="butt"/>
<line x1="115.2" y1="1568.21" x2="122.2" y2="1568.21" stroke="#1c1c1c" stroke-width="2.9" stroke-linecap="butt"/>
<line x1="613.5" y1="1568.21" x2="606.5" y2="1568.21" stroke="#1c1c1c" stroke-width="2.9" stroke-linecap="butt"/>
<line x1="115.2" y1="1530.22" x2="122.2" y2="1530.22" stroke="#1c1c1c" stroke-width="2.9" stroke-linecap="butt"/>
<line x1="613.5" y1="1530.22" x2="606.5" y2="1530.22" stroke="#1c1c1c" stroke-width="2.9" stroke-linecap="butt"/>
<line x1="115.2" y1="1492.23" x2="122.2" y2="1492.23" stroke="#1c1c1c" stroke-width="2.9" stroke-linecap="butt"/>
<line x1="613.5" y1="1492.23" x2="606.5" y2="1492.23" stroke="#1c1c1c" stroke-width="2.9" stroke-linecap="butt"/>
<line x1="115.2" y1="1454.24" x2="122.2" y2="1454.24" stroke="#1c1c1c" stroke-width="2.9" stroke-linecap="butt"/>
<line x1="613.5" y1="1454.24" x2="606.5" y2="1454.24" stroke="#1c1c1c" stroke-width="2.9" stroke-linecap="butt"/>
<line x1="115.2" y1="1416.25" x2="122.2" y2="1416.25" stroke="#1c1c1c" stroke-width="2.9" stroke-linecap="butt"/>
<line x1="613.5" y1="1416.25" x2="606.5" y2="1416.25" stroke="#1c1c1c" stroke-width="2.9" stroke-linecap="butt"/>
<line x1="115.2" y1="1378.26" x2="122.2" y2="1378.26" stroke="#1c1c1c" stroke-width="2.9" stroke-linecap="butt"/>
<line x1="613.5" y1="1378.26" x2="606.5" y2="1378.26" stroke="#1c1c1c" stroke-width="2.9" stroke-linecap="butt"/>
<line x1="115.2" y1="1340.27" x2="122.2" y2="1340.27" stroke="#1c1c1c" stroke-width="2.9" stroke-linecap="butt"/>
<line x1="613.5" y1="1340.27" x2="606.5" y2="1340.27" stroke="#1c1c1c" stroke-width="2.9" stroke-linecap="butt"/>
<line x1="115.2" y1="1302.28" x2="122.2" y2="1302.28" stroke="#1c1c1c" stroke-width="2.9" stroke-linecap="butt"/>
<line x1="613.5" y1="1302.28" x2="606.5" y2="1302.28" stroke="#1c1c1c" stroke-width="2.9" stroke-linecap="butt"/>
<line x1="115.2" y1="1264.29" x2="122.2" y2="1264.29" stroke="#1c1c1c" stroke-width="2.9" stroke-linecap="butt"/>
<line x1="613.5" y1="1264.29" x2="606.5" y2="1264.29" stroke="#1c1c1c" stroke-width="2.9" stroke-linecap="butt"/>
<text class="sans" transform="translate(85.43 1634.8) scale(1.0705 1)" font-size="23.29">2080</text>
<text class="sans" transform="translate(156.6 1634.8) scale(1.0705 1)" font-size="23.29">2100</text>
<text class="sans" transform="translate(227.77 1634.8) scale(1.0705 1)" font-size="23.29">2120</text>
<text class="sans" transform="translate(298.94 1634.8) scale(1.0705 1)" font-size="23.29">2140</text>
<text class="sans" transform="translate(370.12 1634.8) scale(1.0705 1)" font-size="23.29">2160</text>
<text class="sans" transform="translate(441.29 1634.8) scale(1.0705 1)" font-size="23.29">2180</text>
<text class="sans" transform="translate(512.46 1634.8) scale(1.0705 1)" font-size="23.29">2200</text>
<text class="sans" transform="translate(583.63 1634.8) scale(1.0705 1)" font-size="23.29">2220</text>
<text class="sans" transform="translate(77.4 1576.31) scale(1.0315 1)" font-size="23.71">0.1</text>
<text class="sans" transform="translate(77.4 1538.32) scale(1.0640 1)" font-size="23.71">0.2</text>
<text class="sans" transform="translate(77.4 1500.33) scale(1.0315 1)" font-size="23.71">0.3</text>
<text class="sans" transform="translate(77.4 1462.34) scale(1.0315 1)" font-size="23.71">0.4</text>
<text class="sans" transform="translate(77.4 1424.35) scale(1.0315 1)" font-size="23.71">0.5</text>
<text class="sans" transform="translate(77.4 1386.36) scale(1.0315 1)" font-size="23.71">0.6</text>
<text class="sans" transform="translate(77.4 1348.37) scale(1.0640 1)" font-size="23.71">0.7</text>
<text class="sans" transform="translate(77.4 1310.38) scale(1.0315 1)" font-size="23.71">0.8</text>
<text class="sans" transform="translate(77.4 1272.39) scale(1.0315 1)" font-size="23.71">0.9</text>
<text class="sans" transform="translate(90.14 1234.9) scale(1.0600 1)" font-size="23.71">1</text>
<text class="sans" transform="translate(89.9 1611.8) scale(0.9769 1)" font-size="23.71">0</text>
<text class="sans" transform="translate(238.9 1668.1) scale(1.0103 1)" font-size="28.84">Wavenumber (cm</text>
<text class="sans sm" transform="translate(467.8 1657.2) scale(0.9493 1)" font-size="15.22">-1</text>
<text class="sans" transform="translate(483.4 1668.1) scale(0.9375 1)" font-size="28.84">)</text>
<text class="sans" transform="translate(312.37 1210.9) scale(1.0141 1)" font-size="28.99">Intestine</text>
<text class="sans" transform="translate(57.5 1560.35) rotate(-90) scale(1.0246 1)" font-size="28.49">Normalized absorbance</text>
<clipPath id="cKi"><rect x="700.8" y="1226" width="498.8" height="381.2"/></clipPath>
<line x1="916.49" y1="1227" x2="916.49" y2="1606.2" stroke="#111" stroke-width="2" stroke-linecap="butt" stroke-dasharray="4.4 4"/>
<line x1="1053.46" y1="1227" x2="1053.46" y2="1606.2" stroke="#111" stroke-width="2" stroke-linecap="butt" stroke-dasharray="4.4 4"/>
<path d="M701.52 1602.48C702.68 1601.47 710.74 1594.7 713.05 1592.4C715.35 1590.09 722.12 1582.17 724.57 1579.43C727.02 1576.7 734.94 1568.2 737.53 1565.03C740.13 1561.86 748.05 1550.62 750.5 1547.74C752.95 1544.86 759.86 1538.03 762.02 1536.22C764.18 1534.4 769.8 1530.75 772.11 1529.59C774.41 1528.44 782.62 1526.19 785.07 1524.7C787.52 1523.2 794.43 1517.2 796.59 1514.61C798.75 1512.02 804.66 1502.66 806.68 1498.77C808.69 1494.88 814.6 1481.05 816.76 1475.72C818.92 1470.39 825.98 1451.81 828.28 1445.47C830.59 1439.13 837.5 1419.25 839.81 1412.34C842.11 1405.43 849.02 1383.96 851.33 1376.33C853.63 1368.7 860.55 1344.06 862.85 1336C865.16 1327.93 872.07 1303.16 874.38 1295.66C876.68 1288.17 883.6 1266.86 885.9 1261.09C888.2 1255.33 895.41 1241.07 897.42 1238.05C899.44 1235.02 904.19 1231.85 906.07 1230.84C907.94 1229.84 914.28 1227.68 916.15 1227.96C918.02 1228.25 922.92 1232 924.79 1233.73C926.66 1235.45 932.71 1242.51 934.88 1245.25C937.04 1247.99 944.09 1257.64 946.4 1261.09C948.7 1264.55 955.62 1276.36 957.92 1279.82C960.23 1283.28 967.14 1292.78 969.45 1295.66C971.75 1298.55 978.66 1305.6 980.97 1308.63C983.27 1311.65 989.9 1321.74 992.49 1325.91C995.09 1330.09 1004.02 1345.79 1006.9 1350.4C1009.78 1355.01 1018.42 1367.83 1021.3 1372.01C1024.18 1376.19 1032.54 1388 1035.71 1392.17C1038.88 1396.35 1049.82 1409.89 1052.99 1413.78C1056.16 1417.67 1064.52 1427.61 1067.4 1431.07C1070.28 1434.52 1079.21 1445.04 1081.8 1448.35C1084.39 1451.66 1091.02 1460.45 1093.32 1464.2C1095.63 1467.94 1102.54 1481.63 1104.85 1485.8C1107.15 1489.98 1113.78 1501.79 1116.37 1505.97C1118.96 1510.15 1127.89 1523.4 1130.78 1527.58C1133.66 1531.75 1142.3 1543.71 1145.18 1547.74C1148.06 1551.78 1156.7 1564.16 1159.58 1567.91C1162.47 1571.65 1171.4 1582.31 1173.99 1585.19C1176.58 1588.07 1183.06 1594.84 1185.51 1596.72C1187.96 1598.59 1197.18 1603.2 1198.48 1603.92" fill="none" stroke="#dc1420" stroke-width="3" stroke-linejoin="miter" stroke-miterlimit="2" stroke-linecap="butt" stroke-dasharray="9.3 7.4" clip-path="url(#cKi)"/>
<path d="M701.52 1602.48C702.96 1601.76 712.76 1597.01 715.93 1595.28C719.1 1593.55 729.76 1587.35 733.21 1585.19C736.67 1583.03 747.04 1575.98 750.5 1573.67C753.96 1571.37 764.33 1564.6 767.78 1562.15C771.24 1559.7 781.61 1552.06 785.07 1549.18C788.53 1546.3 798.9 1536.8 802.35 1533.34C805.81 1529.88 816.18 1518.5 819.64 1514.61C823.1 1510.72 833.47 1498.77 836.93 1494.45C840.38 1490.12 850.75 1476.15 854.21 1471.4C857.67 1466.65 868.04 1451.95 871.5 1446.91C874.95 1441.87 885.61 1425.74 888.78 1420.98C891.95 1416.23 900.45 1403.84 903.19 1399.38C905.92 1394.91 913.56 1380.94 916.15 1376.33C918.74 1371.72 926.38 1358.18 929.11 1353.28C931.85 1348.39 940.64 1332.54 943.52 1327.35C946.4 1322.17 955.04 1306.32 957.92 1301.43C960.8 1296.53 969.45 1282.7 972.33 1278.38C975.21 1274.06 983.85 1261.67 986.73 1258.21C989.61 1254.76 998.25 1246.34 1001.14 1243.81C1004.02 1241.27 1012.95 1234.45 1015.54 1232.86C1018.13 1231.28 1024.76 1228.54 1027.06 1227.96C1029.37 1227.39 1036.43 1226.81 1038.59 1227.1C1040.75 1227.39 1046.65 1229.46 1048.67 1230.84C1050.69 1232.23 1056.59 1238.19 1058.75 1240.93C1060.91 1243.66 1067.97 1254.18 1070.28 1258.21C1072.58 1262.25 1079.5 1276.36 1081.8 1281.26C1084.11 1286.16 1091.02 1301.43 1093.32 1307.19C1095.63 1312.95 1102.54 1332.25 1104.85 1338.88C1107.15 1345.5 1114.07 1366.25 1116.37 1373.45C1118.68 1380.65 1125.59 1403.7 1127.89 1410.9C1130.2 1418.1 1137.11 1438.56 1139.42 1445.47C1141.72 1452.39 1148.64 1473.42 1150.94 1480.04C1153.25 1486.67 1160.16 1505.39 1162.47 1511.73C1164.77 1518.07 1171.68 1537.37 1173.99 1543.42C1176.29 1549.47 1183.06 1567.04 1185.51 1572.23C1187.96 1577.42 1197.18 1592.97 1198.48 1595.28" fill="none" stroke="#1206bc" stroke-width="3" stroke-linejoin="miter" stroke-miterlimit="2" stroke-linecap="butt" stroke-dasharray="9.3 7.4" clip-path="url(#cKi)"/>
<path d="M701.52 1602.48C702.2 1601.71 710.07 1593.16 711.61 1590.96C713.14 1588.75 722.84 1572.42 724.57 1569.35C726.3 1566.28 735.71 1548.13 737.53 1544.86C739.36 1541.6 750.08 1523.54 751.94 1520.37C753.8 1517.2 763.65 1499.73 765.48 1497.33C767.3 1494.93 777.43 1486.19 779.31 1484.36C781.19 1482.54 791.89 1471.98 793.71 1469.96C795.54 1467.94 804.85 1456.51 806.68 1454.11C808.5 1451.71 819.26 1436.83 821.08 1433.95C822.9 1431.07 832.22 1414.55 834.04 1410.9C835.87 1407.25 846.62 1383.72 848.45 1379.21C850.27 1374.7 859.68 1348.19 861.41 1343.2C863.14 1338.21 872.55 1309.01 874.38 1304.31C876.2 1299.6 886.86 1276.27 888.78 1272.62C890.7 1268.97 901.36 1251.97 903.19 1249.57C905.01 1247.17 914.33 1237.91 916.15 1236.61C917.97 1235.3 928.73 1230.58 930.55 1229.98C932.38 1229.39 941.69 1227.87 943.52 1227.68C945.34 1227.48 956 1227.1 957.92 1227.1C959.84 1227.1 970.5 1227.56 972.33 1227.68C974.15 1227.79 983.56 1227.94 985.29 1228.83C987.02 1229.71 996.43 1239.35 998.25 1240.93C1000.08 1242.5 1010.83 1250.92 1012.66 1252.45C1014.48 1253.99 1023.8 1262.34 1025.62 1263.98C1027.45 1265.61 1038.2 1275.11 1040.03 1276.94C1041.85 1278.76 1051.17 1289.04 1052.99 1291.34C1054.82 1293.65 1065.48 1308.72 1067.4 1311.51C1069.32 1314.29 1079.98 1330.24 1081.8 1333.12C1083.63 1336 1093.04 1351.07 1094.76 1354.72C1096.49 1358.37 1105.9 1383.24 1107.73 1387.85C1109.55 1392.46 1120.31 1419.25 1122.13 1423.86C1123.96 1428.47 1133.27 1452.29 1135.1 1456.99C1136.92 1461.7 1147.68 1489.84 1149.5 1494.45C1151.33 1499.06 1160.64 1521.81 1162.47 1526.14C1164.29 1530.46 1175.14 1555.62 1176.87 1559.27C1178.6 1562.92 1186.95 1578.09 1188.39 1580.87C1189.83 1583.66 1197.8 1599.69 1198.48 1601.04" fill="none" stroke="#0a0a0a" stroke-width="3.1" stroke-linejoin="miter" stroke-miterlimit="2" stroke-linecap="butt" clip-path="url(#cKi)"/>
<rect x="701.8" y="1227" width="496.8" height="379.2" fill="none" stroke="#1c1c1c" stroke-width="2.9"/>
<line x1="772.77" y1="1606.2" x2="772.77" y2="1599.2" stroke="#1c1c1c" stroke-width="2.9" stroke-linecap="butt"/>
<line x1="772.77" y1="1227" x2="772.77" y2="1234" stroke="#1c1c1c" stroke-width="2.9" stroke-linecap="butt"/>
<line x1="843.74" y1="1606.2" x2="843.74" y2="1599.2" stroke="#1c1c1c" stroke-width="2.9" stroke-linecap="butt"/>
<line x1="843.74" y1="1227" x2="843.74" y2="1234" stroke="#1c1c1c" stroke-width="2.9" stroke-linecap="butt"/>
<line x1="914.71" y1="1606.2" x2="914.71" y2="1599.2" stroke="#1c1c1c" stroke-width="2.9" stroke-linecap="butt"/>
<line x1="914.71" y1="1227" x2="914.71" y2="1234" stroke="#1c1c1c" stroke-width="2.9" stroke-linecap="butt"/>
<line x1="985.69" y1="1606.2" x2="985.69" y2="1599.2" stroke="#1c1c1c" stroke-width="2.9" stroke-linecap="butt"/>
<line x1="985.69" y1="1227" x2="985.69" y2="1234" stroke="#1c1c1c" stroke-width="2.9" stroke-linecap="butt"/>
<line x1="1056.66" y1="1606.2" x2="1056.66" y2="1599.2" stroke="#1c1c1c" stroke-width="2.9" stroke-linecap="butt"/>
<line x1="1056.66" y1="1227" x2="1056.66" y2="1234" stroke="#1c1c1c" stroke-width="2.9" stroke-linecap="butt"/>
<line x1="1127.63" y1="1606.2" x2="1127.63" y2="1599.2" stroke="#1c1c1c" stroke-width="2.9" stroke-linecap="butt"/>
<line x1="1127.63" y1="1227" x2="1127.63" y2="1234" stroke="#1c1c1c" stroke-width="2.9" stroke-linecap="butt"/>
<line x1="701.8" y1="1568.28" x2="708.8" y2="1568.28" stroke="#1c1c1c" stroke-width="2.9" stroke-linecap="butt"/>
<line x1="1198.6" y1="1568.28" x2="1191.6" y2="1568.28" stroke="#1c1c1c" stroke-width="2.9" stroke-linecap="butt"/>
<line x1="701.8" y1="1530.36" x2="708.8" y2="1530.36" stroke="#1c1c1c" stroke-width="2.9" stroke-linecap="butt"/>
<line x1="1198.6" y1="1530.36" x2="1191.6" y2="1530.36" stroke="#1c1c1c" stroke-width="2.9" stroke-linecap="butt"/>
<line x1="701.8" y1="1492.44" x2="708.8" y2="1492.44" stroke="#1c1c1c" stroke-width="2.9" stroke-linecap="butt"/>
<line x1="1198.6" y1="1492.44" x2="1191.6" y2="1492.44" stroke="#1c1c1c" stroke-width="2.9" stroke-linecap="butt"/>
<line x1="701.8" y1="1454.52" x2="708.8" y2="1454.52" stroke="#1c1c1c" stroke-width="2.9" stroke-linecap="butt"/>
<line x1="1198.6" y1="1454.52" x2="1191.6" y2="1454.52" stroke="#1c1c1c" stroke-width="2.9" stroke-linecap="butt"/>
<line x1="701.8" y1="1416.6" x2="708.8" y2="1416.6" stroke="#1c1c1c" stroke-width="2.9" stroke-linecap="butt"/>
<line x1="1198.6" y1="1416.6" x2="1191.6" y2="1416.6" stroke="#1c1c1c" stroke-width="2.9" stroke-linecap="butt"/>
<line x1="701.8" y1="1378.68" x2="708.8" y2="1378.68" stroke="#1c1c1c" stroke-width="2.9" stroke-linecap="butt"/>
<line x1="1198.6" y1="1378.68" x2="1191.6" y2="1378.68" stroke="#1c1c1c" stroke-width="2.9" stroke-linecap="butt"/>
<line x1="701.8" y1="1340.76" x2="708.8" y2="1340.76" stroke="#1c1c1c" stroke-width="2.9" stroke-linecap="butt"/>
<line x1="1198.6" y1="1340.76" x2="1191.6" y2="1340.76" stroke="#1c1c1c" stroke-width="2.9" stroke-linecap="butt"/>
<line x1="701.8" y1="1302.84" x2="708.8" y2="1302.84" stroke="#1c1c1c" stroke-width="2.9" stroke-linecap="butt"/>
<line x1="1198.6" y1="1302.84" x2="1191.6" y2="1302.84" stroke="#1c1c1c" stroke-width="2.9" stroke-linecap="butt"/>
<line x1="701.8" y1="1264.92" x2="708.8" y2="1264.92" stroke="#1c1c1c" stroke-width="2.9" stroke-linecap="butt"/>
<line x1="1198.6" y1="1264.92" x2="1191.6" y2="1264.92" stroke="#1c1c1c" stroke-width="2.9" stroke-linecap="butt"/>
<text class="sans" transform="translate(675.73 1634.8) scale(1.0705 1)" font-size="23.29">2080</text>
<text class="sans" transform="translate(746.69 1634.8) scale(1.0705 1)" font-size="23.29">2100</text>
<text class="sans" transform="translate(817.64 1634.8) scale(1.0705 1)" font-size="23.29">2120</text>
<text class="sans" transform="translate(888.6 1634.8) scale(1.0705 1)" font-size="23.29">2140</text>
<text class="sans" transform="translate(959.56 1634.8) scale(1.0705 1)" font-size="23.29">2160</text>
<text class="sans" transform="translate(1030.52 1634.8) scale(1.0705 1)" font-size="23.29">2180</text>
<text class="sans" transform="translate(1101.47 1634.8) scale(1.0705 1)" font-size="23.29">2200</text>
<text class="sans" transform="translate(1172.43 1634.8) scale(1.0705 1)" font-size="23.29">2220</text>
<text class="sans" transform="translate(664 1576.38) scale(1.0315 1)" font-size="23.71">0.1</text>
<text class="sans" transform="translate(664 1538.46) scale(1.0640 1)" font-size="23.71">0.2</text>
<text class="sans" transform="translate(664 1500.54) scale(1.0315 1)" font-size="23.71">0.3</text>
<text class="sans" transform="translate(664 1462.62) scale(1.0315 1)" font-size="23.71">0.4</text>
<text class="sans" transform="translate(664 1424.7) scale(1.0315 1)" font-size="23.71">0.5</text>
<text class="sans" transform="translate(664 1386.78) scale(1.0315 1)" font-size="23.71">0.6</text>
<text class="sans" transform="translate(664 1348.86) scale(1.0640 1)" font-size="23.71">0.7</text>
<text class="sans" transform="translate(664 1310.94) scale(1.0315 1)" font-size="23.71">0.8</text>
<text class="sans" transform="translate(664 1273.02) scale(1.0315 1)" font-size="23.71">0.9</text>
<text class="sans" transform="translate(676.74 1235.6) scale(1.0600 1)" font-size="23.71">1</text>
<text class="sans" transform="translate(677.3 1612.2) scale(0.9692 1)" font-size="23.71">0</text>
<text class="sans" transform="translate(813.2 1668.1) scale(1.0103 1)" font-size="28.84">Wavenumber (cm</text>
<text class="sans sm" transform="translate(1042.1 1657.2) scale(0.9493 1)" font-size="15.22">-1</text>
<text class="sans" transform="translate(1057.7 1668.1) scale(0.9375 1)" font-size="28.84">)</text>
<text class="sans" transform="translate(888.9 1210.9) scale(1.0013 1)" font-size="28.99">Kidney</text>
<text class="sans" transform="translate(0.15 588.8) scale(1.1263 1)" font-size="36.44" font-weight="bold">b</text>
<text class="serif" transform="translate(185.76 1092.6) scale(1.0421 1)" font-size="29.08">CD</text>
<text class="serif" transform="translate(227.9 1101.2) scale(1.0556 1)" font-size="14.77">L</text>
<text class="serif" transform="translate(242.68 1092.6) scale(1.0154 1)" font-size="28.64">= 1.17 A</text>
<text class="serif" transform="translate(346.8 1101.2) scale(1.0973 1)" font-size="14.55">2141</text>
<text class="serif" transform="translate(386.9 1092.6) scale(0.9975 1)" font-size="28.64">- 0.47 A</text>
<text class="serif" transform="translate(482.6 1101.2) scale(1.1355 1)" font-size="14.55">2179</text>
<text class="serif" transform="translate(185.76 1127.4) scale(1.0421 1)" font-size="29.08">CD</text>
<text class="serif" transform="translate(227.9 1136.2) scale(1.0000 1)" font-size="14.77">P</text>
<text class="serif" transform="translate(242.7 1127.4) scale(1.0038 1)" font-size="28.64">= -0.44 A</text>
<text class="serif" transform="translate(355.3 1136.2) scale(1.0939 1)" font-size="14.55">2141</text>
<text class="serif" transform="translate(395.31 1127.4) scale(0.9945 1)" font-size="28.64">+ 1.18 A</text>
<text class="serif" transform="translate(497.4 1136.2) scale(1.1703 1)" font-size="14.55">2179</text>
<text class="serif" transform="translate(788.96 1093.7) scale(1.0421 1)" font-size="29.08">CD</text>
<text class="serif" transform="translate(831.1 1102.3) scale(1.0556 1)" font-size="14.77">L</text>
<text class="serif" transform="translate(845.77 1093.7) scale(1.0311 1)" font-size="28.64">= 1.36A</text>
<text class="serif" transform="translate(944.3 1102.3) scale(1.0765 1)" font-size="14.55">2141</text>
<text class="serif" transform="translate(984.21 1093.7) scale(0.9921 1)" font-size="28.64">- 0.86 A</text>
<text class="serif" transform="translate(1079.5 1102.3) scale(1.1529 1)" font-size="14.55">2179</text>
<text class="serif" transform="translate(788.96 1128.4) scale(1.0421 1)" font-size="29.08">CD</text>
<text class="serif" transform="translate(831.1 1137.2) scale(1.0000 1)" font-size="14.77">P</text>
<text class="serif" transform="translate(845.8 1128.4) scale(1.0047 1)" font-size="28.64">= -0.56 A</text>
<text class="serif" transform="translate(958.4 1137.2) scale(1.0973 1)" font-size="14.55">2141</text>
<text class="serif" transform="translate(998.49 1128.4) scale(1.0140 1)" font-size="28.64">+ 1.37A</text>
<text class="serif" transform="translate(1095.3 1137.2) scale(1.1321 1)" font-size="14.55">2179</text>
<text class="serif" transform="translate(1365.76 1093.7) scale(1.0421 1)" font-size="29.08">CD</text>
<text class="serif" transform="translate(1407.9 1102.3) scale(1.0556 1)" font-size="14.77">L</text>
<text class="serif" transform="translate(1422.68 1093.7) scale(1.0154 1)" font-size="28.64">= 1.52 A</text>
<text class="serif" transform="translate(1526.8 1102.3) scale(1.0973 1)" font-size="14.55">2141</text>
<text class="serif" transform="translate(1566.9 1093.7) scale(0.9975 1)" font-size="28.64">- 1.02 A</text>
<text class="serif" transform="translate(1662.6 1102.3) scale(1.1355 1)" font-size="14.55">2179</text>
<text class="serif" transform="translate(1365.76 1128.4) scale(1.0421 1)" font-size="29.08">CD</text>
<text class="serif" transform="translate(1407.9 1137.2) scale(1.0000 1)" font-size="14.77">P</text>
<text class="serif" transform="translate(1422.7 1128.4) scale(1.0038 1)" font-size="28.64">= -0.79 A</text>
<text class="serif" transform="translate(1535.3 1137.2) scale(1.0939 1)" font-size="14.55">2141</text>
<text class="serif" transform="translate(1575.31 1128.4) scale(0.9945 1)" font-size="28.64">+ 1.57 A</text>
<text class="serif" transform="translate(1677.4 1137.2) scale(1.1703 1)" font-size="14.55">2179</text>
<text class="serif" transform="translate(185.76 1706.8) scale(1.0421 1)" font-size="29.08">CD</text>
<text class="serif" transform="translate(227.9 1715.4) scale(1.0556 1)" font-size="14.77">L</text>
<text class="serif" transform="translate(242.68 1706.8) scale(1.0154 1)" font-size="28.64">= 1.41 A</text>
<text class="serif" transform="translate(346.8 1715.4) scale(1.0973 1)" font-size="14.55">2141</text>
<text class="serif" transform="translate(386.9 1706.8) scale(0.9975 1)" font-size="28.64">- 0.96 A</text>
<text class="serif" transform="translate(482.6 1715.4) scale(1.1355 1)" font-size="14.55">2179</text>
<text class="serif" transform="translate(185.76 1741.3) scale(1.0421 1)" font-size="29.08">CD</text>
<text class="serif" transform="translate(227.9 1750.1) scale(1.0000 1)" font-size="14.77">P</text>
<text class="serif" transform="translate(242.7 1741.3) scale(1.0038 1)" font-size="28.64">= -0.51 A</text>
<text class="serif" transform="translate(355.3 1750.1) scale(1.0939 1)" font-size="14.55">2141</text>
<text class="serif" transform="translate(395.31 1741.3) scale(0.9945 1)" font-size="28.64">+ 1.39 A</text>
<text class="serif" transform="translate(497.4 1750.1) scale(1.1703 1)" font-size="14.55">2179</text>
<text class="serif" transform="translate(777.76 1706.8) scale(1.0421 1)" font-size="29.08">CD</text>
<text class="serif" transform="translate(819.9 1715.4) scale(1.0556 1)" font-size="14.77">L</text>
<text class="serif" transform="translate(834.68 1706.8) scale(1.0154 1)" font-size="28.64">= 1.46 A</text>
<text class="serif" transform="translate(938.8 1715.4) scale(1.0973 1)" font-size="14.55">2141</text>
<text class="serif" transform="translate(978.9 1706.8) scale(0.9975 1)" font-size="28.64">- 0.91 A</text>
<text class="serif" transform="translate(1074.6 1715.4) scale(1.1355 1)" font-size="14.55">2179</text>
<text class="serif" transform="translate(777.76 1741.3) scale(1.0421 1)" font-size="29.08">CD</text>
<text class="serif" transform="translate(819.9 1750.1) scale(1.0000 1)" font-size="14.77">P</text>
<text class="serif" transform="translate(834.7 1741.3) scale(1.0038 1)" font-size="28.64">= -0.76 A</text>
<text class="serif" transform="translate(947.3 1750.1) scale(1.0939 1)" font-size="14.55">2141</text>
<text class="serif" transform="translate(987.31 1741.3) scale(0.9945 1)" font-size="28.64">+ 1.50 A</text>
<text class="serif" transform="translate(1089.4 1750.1) scale(1.1703 1)" font-size="14.55">2179</text>
<rect x="1333.3" y="1350.4" width="354.1" height="145.8" fill="#fff" stroke="#3a3a3a" stroke-width="2.6"/>
<line x1="1349.6" y1="1383.6" x2="1389.2" y2="1383.6" stroke="#dc1420" stroke-width="3.2" stroke-linecap="butt" stroke-dasharray="9 7.6"/>
<line x1="1348.8" y1="1426.5" x2="1388.4" y2="1426.5" stroke="#1206bc" stroke-width="3.2" stroke-linecap="butt" stroke-dasharray="9 7.6"/>
<line x1="1349.4" y1="1469.2" x2="1388.7" y2="1469.2" stroke="#0a0a0a" stroke-width="3.2" stroke-linecap="butt"/>
<text class="sans" transform="translate(1396.99 1390.9) scale(1.0069 1)" font-size="28.99">Proteinase K treated</text>
<text class="sans" transform="translate(1395.18 1433.6) scale(1.0102 1)" font-size="28.99">MeOH washed</text>
<text class="sans" transform="translate(1395.78 1476.4) scale(1.0086 1)" font-size="28.99">Full spectrum</text>
</svg>
</body>
</html>
